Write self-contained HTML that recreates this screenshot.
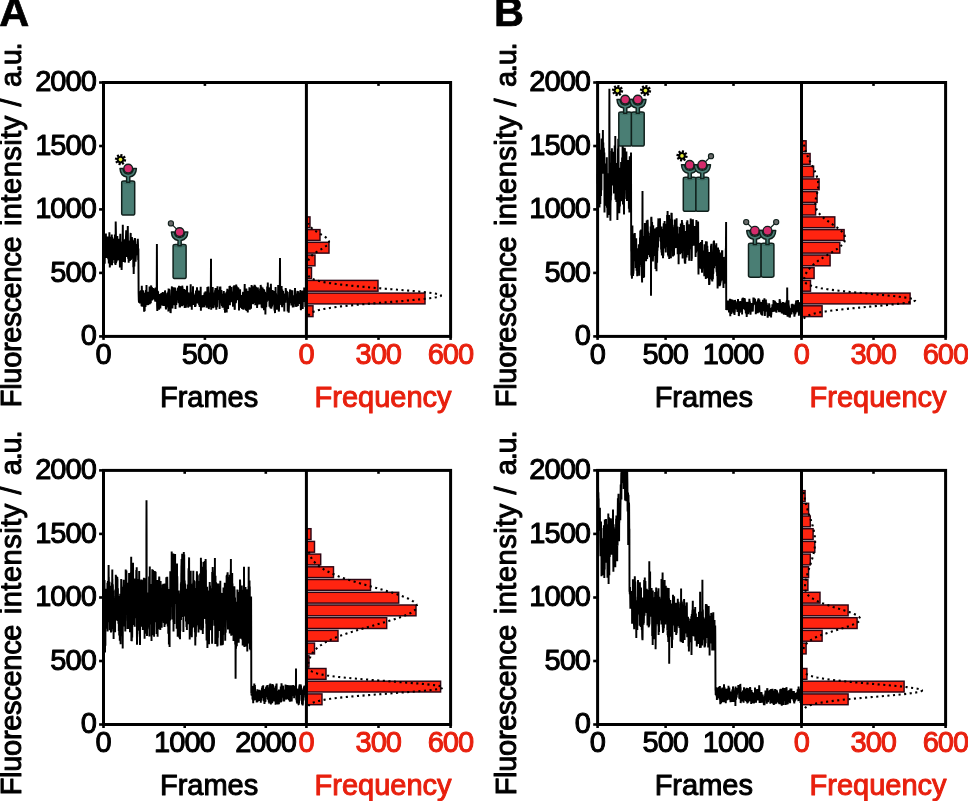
<!DOCTYPE html>
<html lang="en"><head><meta charset="utf-8"><title>Fluorescence photobleaching traces</title>
<style>html,body{margin:0;padding:0;background:#fff}body{width:968px;height:801px;overflow:hidden}svg{display:block}.t{font-family:"Liberation Sans",Arial,Helvetica,sans-serif;font-size:29px;fill:#000;stroke:#000;stroke-width:1px;stroke-linejoin:round}.r{fill:#e8200e;stroke:#e8200e}.n{letter-spacing:-.95px}.pl{font-family:"Liberation Sans",Arial,Helvetica,sans-serif;font-weight:bold;font-size:41.5px;fill:#000;stroke:#000;stroke-width:.7px}.tr{fill:none;stroke:#000;stroke-width:1.95;stroke-linejoin:miter;stroke-miterlimit:2}</style></head><body>
<svg width="968" height="801" viewBox="0 0 968 801">
<rect width="968" height="801" fill="#fff"/>
<text class="pl" x="-0.7" y="26.0">A</text>
<text class="pl" x="494.0" y="26.0">B</text>
<g id="A1">
<polyline class="tr" points="103.5,239.3 103.7,238.7 103.9,234.7 104.1,251.8 104.3,252.4 104.5,246.4 104.7,263.8 104.9,250.1 105.1,250.7 105.3,257.9 105.5,239.1 105.7,242.6 105.9,233.4 106.1,246.8 106.3,243.3 106.5,241.3 106.7,255 106.9,258 107.2,245.2 107.4,239.8 107.6,236.6 107.8,242.4 108,249.9 108.2,259.2 108.4,246.9 108.6,252.3 108.8,263.5 109,251.1 109.2,243.2 109.4,232.2 109.6,245.9 109.8,267.5 110,264 110.2,265 110.4,255.9 110.6,236.8 110.8,258.5 111,248.1 111.2,263.6 111.4,244.3 111.6,263.1 111.8,234.6 112,265.2 112.2,237 112.4,255 112.6,263 112.8,255.7 113,256.2 113.2,244.5 113.4,259.6 113.6,249.2 113.8,244.4 114.1,238.5 114.3,248.2 114.5,250.7 114.7,260 114.9,234.5 115.1,263.8 115.3,237.5 115.5,265.1 115.7,221.5 115.9,231 116.1,263.3 116.3,252.1 116.5,245.1 116.7,261.5 116.9,246.1 117.1,257.5 117.3,236 117.5,251.9 117.7,252 117.9,239.3 118.1,260.3 118.3,238.7 118.5,258.5 118.7,252 118.9,252.9 119.1,239.5 119.3,260.4 119.5,250.9 119.7,241.6 119.9,267.4 120.1,243.7 120.3,233.8 120.5,247.3 120.7,248.2 120.9,264.4 121.2,244.9 121.4,255 121.6,269.9 121.8,263.7 122,249.2 122.2,243.5 122.4,241.9 122.6,253.1 122.8,224.7 123,249.2 123.2,262.1 123.4,250.3 123.6,249.1 123.8,254.5 124,252.3 124.2,248 124.4,239.8 124.6,250.5 124.8,251.8 125,262.4 125.2,239.7 125.4,239.5 125.6,243.3 125.8,250.5 126,236.2 126.2,230.2 126.4,244.6 126.6,253.3 126.8,255 127,257 127.2,249.1 127.4,231.3 127.6,237.5 127.8,226 128.1,258.7 128.3,246.8 128.5,254 128.7,262.8 128.9,240.6 129.1,244.1 129.3,246.5 129.5,257.4 129.7,245.9 129.9,261 130.1,254.6 130.3,252.5 130.5,238.2 130.7,232.9 130.9,259.9 131.1,250 131.3,243 131.5,242.2 131.7,255.9 131.9,236.9 132.1,256.2 132.3,238.5 132.5,256.7 132.7,258.7 132.9,250.2 133.1,242.8 133.3,267.3 133.5,248 133.7,274 133.9,259.1 134.1,240.2 134.3,266.4 134.5,243.2 134.7,246.9 134.9,238.1 135.2,241.6 135.4,249.3 135.6,261.8 135.8,256.6 136,254.1 136.2,244 136.4,253.9 136.6,251.4 136.8,252 137,255.1 137.2,246.8 137.4,254.5 137.6,243 137.8,238.8 138,244.7 138.2,260.3 138.4,248.4 138.6,292.8 138.8,299.9 139,302.7 139.2,296.9 139.4,292.1 139.6,296.3 139.8,302.2 140,303.4 140.2,291.3 140.4,291.7 140.6,293.6 140.8,291.1 141,290.4 141.2,300 141.4,301.4 141.6,306.2 141.8,285.8 142.1,303.5 142.3,306.8 142.5,297.7 142.7,298.7 142.9,300.3 143.1,290.4 143.3,292.3 143.5,297.5 143.7,299 143.9,295.7 144.1,311.7 144.3,292.7 144.5,309.6 144.7,309.7 144.9,299.9 145.1,297.7 145.3,300.6 145.5,306.9 145.7,295.9 145.9,290 146.1,297.2 146.3,305.2 146.5,285 146.7,305.1 146.9,293.5 147.1,296.9 147.3,292 147.5,303.1 147.7,302.8 147.9,291.7 148.1,304.5 148.3,305 148.5,299.7 148.7,293.8 148.9,297.7 149.2,302.5 149.4,294.5 149.6,286.6 149.8,304.2 150,297.4 150.2,295.8 150.4,292.3 150.6,295.2 150.8,303.3 151,288.3 151.2,285.4 151.4,295.7 151.6,295.8 151.8,287.3 152,288.3 152.2,300.4 152.4,295.9 152.6,292.1 152.8,293.4 153,295 153.2,298.8 153.4,287.9 153.6,299.6 153.8,290.8 154,289.1 154.2,294.5 154.4,289.7 154.6,299.2 154.8,295.4 155,299.1 155.2,300.9 155.4,301.4 155.6,287.5 155.8,293.7 156.1,290.8 156.3,299.7 156.5,288.4 156.7,300.2 156.9,244.1 157.1,305.3 157.3,310.9 157.5,305.2 157.7,290.9 157.9,293.2 158.1,291.6 158.3,298.8 158.5,295.3 158.7,301.5 158.9,304.5 159.1,309.7 159.3,303.5 159.5,301.6 159.7,299.5 159.9,294.1 160.1,303.5 160.3,308.4 160.5,303.9 160.7,303.8 160.9,301.6 161.1,303.2 161.3,292.9 161.5,296.1 161.7,293.3 161.9,296.4 162.1,305.3 162.3,304.6 162.5,301 162.7,292.1 162.9,295.9 163.2,300 163.4,306 163.6,300.2 163.8,295.1 164,292.5 164.2,306.1 164.4,296.7 164.6,300.8 164.8,302.3 165,290.4 165.2,293.2 165.4,295.7 165.6,296.2 165.8,307.5 166,309.4 166.2,297.1 166.4,301.8 166.6,298.2 166.8,307.5 167,297.6 167.2,296 167.4,292.8 167.6,301.8 167.8,293.8 168,299.8 168.2,291.6 168.4,311.5 168.6,288.5 168.8,298 169,289.1 169.2,294.4 169.4,302.9 169.6,307.3 169.8,305.7 170.1,306.1 170.3,304.7 170.5,312.9 170.7,312.5 170.9,302.8 171.1,302.8 171.3,289.5 171.5,295 171.7,289.8 171.9,286.4 172.1,297.3 172.3,297.2 172.5,308.5 172.7,289 172.9,293.7 173.1,291.4 173.3,295.8 173.5,294.6 173.7,287.4 173.9,290.7 174.1,305.2 174.3,289.2 174.5,301.8 174.7,300.6 174.9,303 175.1,287.6 175.3,293.1 175.5,309.1 175.7,291.2 175.9,303.1 176.1,303.4 176.3,305 176.5,291 176.7,293.4 176.9,294.8 177.2,299.7 177.4,297.4 177.6,290.6 177.8,288.8 178,287.6 178.2,293.2 178.4,301.1 178.6,303.1 178.8,299.6 179,285.8 179.2,287.5 179.4,293.6 179.6,307.4 179.8,286.1 180,307.5 180.2,302.6 180.4,291.5 180.6,286.5 180.8,299.9 181,303.3 181.2,297.4 181.4,305.5 181.6,304.6 181.8,295.8 182,306.3 182.2,285.7 182.4,287.5 182.6,288.4 182.8,298.7 183,298.2 183.2,299.6 183.4,305.4 183.6,300.9 183.8,295.2 184.1,304.2 184.3,289.1 184.5,295 184.7,308 184.9,290.1 185.1,305.5 185.3,304.3 185.5,299.8 185.7,301 185.9,307.6 186.1,303 186.3,303.6 186.5,301.7 186.7,295.7 186.9,288.9 187.1,285.8 187.3,301.6 187.5,297.9 187.7,292.3 187.9,299.6 188.1,307.5 188.3,306 188.5,292.5 188.7,306.3 188.9,300.7 189.1,298.7 189.3,298.8 189.5,298.7 189.7,298.7 189.9,302.4 190.1,297.7 190.3,306.8 190.5,293.1 190.7,284.3 190.9,296.1 191.2,294.7 191.4,297.1 191.6,292.2 191.8,309.7 192,294.1 192.2,297.2 192.4,302.6 192.6,295.2 192.8,298.2 193,286.2 193.2,300.2 193.4,293 193.6,305 193.8,297 194,304.6 194.2,297.4 194.4,295.9 194.6,304 194.8,294.4 195,306.9 195.2,301.9 195.4,296.1 195.6,306.5 195.8,299 196,290.6 196.2,301.2 196.4,294.2 196.6,299.6 196.8,293.3 197,287.2 197.2,292.3 197.4,303.5 197.6,291.5 197.8,297.3 198.1,294.8 198.3,293.8 198.5,292.7 198.7,291.1 198.9,290.7 199.1,305.1 199.3,293.6 199.5,304.8 199.7,307 199.9,298.8 200.1,297.9 200.3,301.6 200.5,297.9 200.7,286.8 200.9,310.7 201.1,295.9 201.3,295.4 201.5,302 201.7,295.2 201.9,306.1 202.1,297.5 202.3,307.4 202.5,305.9 202.7,303.3 202.9,302.2 203.1,295.3 203.3,295.5 203.5,297 203.7,304 203.9,298.4 204.1,307.3 204.3,304.7 204.5,292.6 204.7,304.2 204.9,301.3 205.2,299.6 205.4,292.5 205.6,291.5 205.8,295.3 206,293.7 206.2,305.5 206.4,291.9 206.6,307.8 206.8,304.1 207,302.5 207.2,294.9 207.4,287.1 207.6,304.5 207.8,307.8 208,303.5 208.2,297.2 208.4,286.6 208.6,291.5 208.8,309.1 209,306.7 209.2,305.1 209.4,306.9 209.6,305.5 209.8,305.4 210,306.7 210.2,303 210.4,292.5 210.6,295.8 210.8,294.6 211,258.7 211.2,309.8 211.4,294.7 211.6,293.8 211.8,296.6 212.1,291.2 212.3,293.8 212.5,306.3 212.7,287.1 212.9,299.6 213.1,308.2 213.3,296.7 213.5,302.4 213.7,292.5 213.9,302 214.1,304.4 214.3,304.7 214.5,293.7 214.7,294.3 214.9,297.2 215.1,290.2 215.3,307.5 215.5,287.9 215.7,300.7 215.9,295.5 216.1,292.6 216.3,309.8 216.5,291.9 216.7,305.4 216.9,298.4 217.1,307.1 217.3,301.9 217.5,286.3 217.7,296.4 217.9,295.2 218.1,298.7 218.3,298.8 218.5,292 218.7,297.2 219,298.9 219.2,289.8 219.4,296.9 219.6,309.1 219.8,298.2 220,286.8 220.2,294.5 220.4,286.4 220.6,296.9 220.8,291.5 221,293.7 221.2,295.3 221.4,289.9 221.6,301.5 221.8,304.3 222,306 222.2,298.5 222.4,302.7 222.6,307.7 222.8,304.9 223,305.1 223.2,293.8 223.4,301 223.6,295.4 223.8,291.1 224,304.2 224.2,298 224.4,299.4 224.6,309.9 224.8,299.2 225,312.7 225.2,303.3 225.4,311.8 225.6,293.2 225.8,296.2 226.1,297.4 226.3,306.8 226.5,292.1 226.7,312.5 226.9,291.5 227.1,300 227.3,288.7 227.5,300.3 227.7,307 227.9,298.1 228.1,308.9 228.3,289.7 228.5,296.6 228.7,294.7 228.9,293.1 229.1,298 229.3,298 229.5,286.1 229.7,288.5 229.9,305.2 230.1,285.8 230.3,293.6 230.5,302.2 230.7,296.1 230.9,302.3 231.1,290.7 231.3,287 231.5,293.9 231.7,292.2 231.9,293.2 232.1,293.8 232.3,291.5 232.5,297 232.7,292.5 233,306.7 233.2,296.9 233.4,303.9 233.6,286.3 233.8,289.4 234,295.8 234.2,285.2 234.4,295.7 234.6,308.8 234.8,309.8 235,292 235.2,300.8 235.4,289.1 235.6,295.3 235.8,303.2 236,301.5 236.2,284.6 236.4,288.4 236.6,293.8 236.8,286.3 237,297.8 237.2,294.5 237.4,300.2 237.6,296.7 237.8,287.2 238,293.9 238.2,296.8 238.4,287.8 238.6,296.6 238.8,292.2 239,310.5 239.2,299.4 239.4,293.2 239.6,306.3 239.8,290.9 240.1,289.3 240.3,307.3 240.5,297.8 240.7,299.9 240.9,298.1 241.1,307.1 241.3,307.4 241.5,294.9 241.7,306.7 241.9,298.6 242.1,309 242.3,295.8 242.5,299.3 242.7,301.4 242.9,294.8 243.1,291.9 243.3,309.8 243.5,294.4 243.7,295.2 243.9,297.8 244.1,302.6 244.3,294.9 244.5,291.8 244.7,283.9 244.9,308.7 245.1,303.3 245.3,292.6 245.5,289.4 245.7,309.5 245.9,309.6 246.1,306.4 246.3,288.5 246.5,290.3 246.7,302.5 247,291.9 247.2,305.7 247.4,294.9 247.6,303.1 247.8,312.4 248,292.3 248.2,308 248.4,290.9 248.6,298.4 248.8,300.4 249,292.3 249.2,296.6 249.4,287.2 249.6,302.3 249.8,309.8 250,295 250.2,299.7 250.4,288.1 250.6,299.2 250.8,301.7 251,308.7 251.2,289.8 251.4,298.8 251.6,285 251.8,295.9 252,299.4 252.2,287.9 252.4,302 252.6,293.7 252.8,299.8 253,304.3 253.2,296.5 253.4,286.3 253.6,288.6 253.8,303 254.1,288.1 254.3,297.6 254.5,284.8 254.7,292.5 254.9,299.4 255.1,285.5 255.3,305.3 255.5,302.4 255.7,288.5 255.9,286.7 256.1,292.5 256.3,297.6 256.5,290.4 256.7,303.7 256.9,292.1 257.1,307.9 257.3,295 257.5,305.3 257.7,287.5 257.9,288.9 258.1,291.9 258.3,293.5 258.5,299.6 258.7,294.8 258.9,300.9 259.1,304 259.3,303.3 259.5,291.5 259.7,304.6 259.9,296.4 260.1,288.6 260.3,304.1 260.5,298.7 260.7,284.9 261,295.7 261.2,290 261.4,286.6 261.6,307.5 261.8,303.3 262,303.6 262.2,307.3 262.4,307.3 262.6,287.4 262.8,300.4 263,300.1 263.2,299.5 263.4,304 263.6,288.9 263.8,298.9 264,310.3 264.2,289.8 264.4,298.1 264.6,299.6 264.8,307.6 265,291.7 265.2,296.1 265.4,314.4 265.6,298.9 265.8,296.2 266,293.4 266.2,307.2 266.4,302.8 266.6,295.6 266.8,302 267,296.4 267.2,286.6 267.4,298.5 267.6,300.7 267.8,282.4 268.1,300.7 268.3,291.7 268.5,288.7 268.7,287.4 268.9,296.2 269.1,294.5 269.3,292.2 269.5,306.8 269.7,297.8 269.9,295.4 270.1,291.6 270.3,287.3 270.5,308.3 270.7,290.9 270.9,283.8 271.1,295.4 271.3,308.7 271.5,306.8 271.7,297.5 271.9,304 272.1,306.5 272.3,290.1 272.5,300.9 272.7,290.3 272.9,299.4 273.1,296.7 273.3,303.3 273.5,304.3 273.7,304 273.9,291 274.1,294.2 274.3,304.4 274.5,310.4 274.7,307.1 275,313.1 275.2,295.8 275.4,299.1 275.6,287 275.8,298.3 276,293.2 276.2,296 276.4,296.4 276.6,305.9 276.8,296.4 277,309.7 277.2,295.8 277.4,300.5 277.6,295.4 277.8,300.6 278,302.8 278.2,284.9 278.4,303.7 278.6,291.6 278.8,311.6 279,309.4 279.2,302.6 279.4,300.9 279.6,290.9 279.8,288.1 280,257.9 280.2,298.5 280.4,299.7 280.6,293.7 280.8,297.6 281,296 281.2,305 281.4,289.7 281.6,286.1 281.8,301.4 282.1,307.2 282.3,289.6 282.5,299.4 282.7,292.6 282.9,298.2 283.1,291.1 283.3,304.9 283.5,301.4 283.7,294.8 283.9,300.5 284.1,293.6 284.3,311.5 284.5,297.8 284.7,297.1 284.9,295.4 285.1,293.8 285.3,299.2 285.5,302.8 285.7,288.1 285.9,289.8 286.1,291.9 286.3,296.1 286.5,290.8 286.7,299.9 286.9,292.3 287.1,291.4 287.3,299 287.5,299.3 287.7,311.5 287.9,304.7 288.1,310.6 288.3,307.5 288.5,307.2 288.7,312.6 289,305 289.2,299.2 289.4,292 289.6,295.5 289.8,302.1 290,290.7 290.2,289.4 290.4,303.3 290.6,290.1 290.8,298.5 291,293.6 291.2,301.2 291.4,305.4 291.6,292.1 291.8,297.4 292,301.4 292.2,297.4 292.4,290.3 292.6,302.5 292.8,307.5 293,303.9 293.2,300.6 293.4,306.1 293.6,307.3 293.8,295.9 294,295.3 294.2,297.6 294.4,298.5 294.6,304.1 294.8,301.5 295,287.9 295.2,300.8 295.4,293.6 295.6,297.9 295.8,306.7 296.1,305.5 296.3,298.3 296.5,304.2 296.7,306.7 296.9,300.9 297.1,299.1 297.3,292 297.5,291 297.7,299.1 297.9,306.1 298.1,294.8 298.3,291.3 298.5,301.9 298.7,302.6 298.9,300.7 299.1,300.1 299.3,302.1 299.5,293.1 299.7,302.1 299.9,303.8 300.1,293.1 300.3,295.8 300.5,290 300.7,304.3 300.9,310.1 301.1,306.8 301.3,306.2 301.5,294.9 301.7,299 301.9,296.6 302.1,296.9 302.3,290.9 302.5,304.3 302.7,309 303,290.4 303.2,300 303.4,296.4 303.6,294.4 303.8,298.6 304,301.9 304.2,287.6 304.4,291 304.6,297.3 304.8,299.5 305,295 305.2,298.1 305.4,307 305.6,295.1 305.8,304 306,298.1 306.2,299.8 306.4,298.1"/>
<rect x="307" y="216.9" width="3" height="10.8" fill="#ff2410" stroke="#2e0614" stroke-width="1.45"/><rect x="307" y="229.6" width="13" height="10.8" fill="#ff2410" stroke="#2e0614" stroke-width="1.45"/><rect x="307" y="242.3" width="22" height="10.8" fill="#ff2410" stroke="#2e0614" stroke-width="1.45"/><rect x="307" y="255" width="8" height="10.8" fill="#ff2410" stroke="#2e0614" stroke-width="1.45"/><rect x="307" y="267.7" width="4.5" height="10.8" fill="#ff2410" stroke="#2e0614" stroke-width="1.45"/><rect x="307" y="280.4" width="71" height="10.8" fill="#ff2410" stroke="#2e0614" stroke-width="1.45"/><rect x="307" y="293.1" width="118" height="10.8" fill="#ff2410" stroke="#2e0614" stroke-width="1.45"/><rect x="307" y="305.8" width="6" height="10.8" fill="#ff2410" stroke="#2e0614" stroke-width="1.45"/>
<polyline points="308.3,315.6 308.7,315.1 309.1,314.6 309.6,314.1 310.2,313.5 311,313 311.8,312.5 312.9,312 314.1,311.5 315.5,311 317.2,310.5 319.1,310 321.3,309.5 323.8,309 326.6,308.5 329.7,308 333.2,307.5 337,306.9 341.1,306.4 345.6,305.9 350.5,305.4 355.7,304.9 361.2,304.4 366.9,303.9 372.8,303.4 378.9,302.9 385.2,302.4 391.4,301.9 397.6,301.4 403.7,300.9 409.6,300.3 415.2,299.8 420.5,299.3 425.3,298.8 429.5,298.3 433.2,297.8 436.2,297.3 438.5,296.8 440.1,296.3 440.9,295.8 440.9,295.3 440.1,294.8 438.5,294.3 436.2,293.7 433.2,293.2 429.5,292.7 425.3,292.2 420.5,291.7 415.2,291.2 409.6,290.7 403.7,290.2 397.6,289.7 391.4,289.2 385.2,288.7 378.9,288.2 372.8,287.7 366.9,287.1 361.2,286.6 355.7,286.1 350.5,285.6 345.6,285.1 341.1,284.6 337,284.1 333.2,283.6 329.7,283.1 326.6,282.6 323.8,282.1 321.3,281.6 319.1,281 317.2,280.5 315.5,280 314.1,279.5 312.9,279 311.8,278.5 311,278 310.2,277.5 309.6,277 309.1,276.5 308.7,276 308.3,275.5" fill="none" stroke="#000" stroke-width="2.1" stroke-dasharray="2.1 3.5"/><polyline points="308.2,260.7 308.4,260.2 308.7,259.7 308.9,259.2 309.2,258.7 309.5,258.2 309.9,257.7 310.3,257.2 310.7,256.7 311.2,256.2 311.7,255.7 312.2,255.2 312.8,254.6 313.5,254.1 314.1,253.6 314.9,253.1 315.6,252.6 316.4,252.1 317.2,251.6 318,251.1 318.8,250.6 319.7,250.1 320.6,249.6 321.4,249.1 322.3,248.6 323.1,248 323.9,247.5 324.7,247 325.4,246.5 326.1,246 326.7,245.5 327.3,245 327.8,244.5 328.2,244 328.5,243.5 328.8,243 328.9,242.5 329,241.9 329,241.4 328.9,240.9 328.7,240.4 328.4,239.9 328,239.4 327.5,238.9 327,238.4 326.4,237.9 325.8,237.4 325.1,236.9 324.3,236.4 323.5,235.9 322.7,235.3 321.8,234.8 321,234.3 320.1,233.8 319.3,233.3 318.4,232.8 317.6,232.3 316.8,231.8 316,231.3 315.2,230.8 314.5,230.3 313.8,229.8 313.1,229.3 312.5,228.7 312,228.2 311.4,227.7 310.9,227.2 310.5,226.7 310.1,226.2 309.7,225.7 309.4,225.2 309.1,224.7 308.8,224.2 308.5,223.7 308.3,223.2" fill="none" stroke="#000" stroke-width="2.1" stroke-dasharray="2.1 3.5"/>
<g><rect x="121.7" y="181" width="13" height="34" rx="2.2" ry="1.6" fill="#4a7e74" stroke="#10201c" stroke-width="1.5"/><path d="M122.5 182.6 q5.7 2.4 11.4 0" fill="none" stroke="#3a6a60" stroke-width="1"/><path d="M126.6 182.2 v-5.2 q-6.2 -1 -6.6 -8.6 h3 q0.6 5.6 5.2 5.6 q4.6 0 5.2 -5.6 h3 q-0.4 7.6 -6.6 8.6 v5.2 z" fill="#4a7e74" stroke="#10201c" stroke-width="1.45" stroke-linejoin="round"/><circle cx="128.2" cy="168.6" r="4.4" fill="#d42c6c" stroke="#10201c" stroke-width="1.4"/><g transform="translate(120.5,159.6)"><line x1="0" y1="0" x2="5.5" y2="1.1" stroke="#000" stroke-width="2.2"/><line x1="0" y1="0" x2="3.1" y2="4.7" stroke="#000" stroke-width="2.2"/><line x1="0" y1="0" x2="-1.1" y2="5.5" stroke="#000" stroke-width="2.2"/><line x1="0" y1="0" x2="-4.7" y2="3.1" stroke="#000" stroke-width="2.2"/><line x1="0" y1="0" x2="-5.5" y2="-1.1" stroke="#000" stroke-width="2.2"/><line x1="0" y1="0" x2="-3.1" y2="-4.7" stroke="#000" stroke-width="2.2"/><line x1="0" y1="0" x2="1.1" y2="-5.5" stroke="#000" stroke-width="2.2"/><line x1="0" y1="0" x2="4.7" y2="-3.1" stroke="#000" stroke-width="2.2"/><circle r="3.7" fill="#000"/><circle r="1.8" fill="#e6ee3c"/></g></g>
<g><line x1="170.9" y1="223.4" x2="179.6" y2="232.1" stroke="#10201c" stroke-width="1.3"/><circle cx="170.9" cy="223.4" r="2.6" fill="#6a6a6a" stroke="#10201c" stroke-width="1.1"/><rect x="173.1" y="244.5" width="13" height="34" rx="2.2" ry="1.6" fill="#4a7e74" stroke="#10201c" stroke-width="1.5"/><path d="M173.9 246.1 q5.7 2.4 11.4 0" fill="none" stroke="#3a6a60" stroke-width="1"/><path d="M178 245.7 v-5.2 q-6.2 -1 -6.6 -8.6 h3 q0.6 5.6 5.2 5.6 q4.6 0 5.2 -5.6 h3 q-0.4 7.6 -6.6 8.6 v5.2 z" fill="#4a7e74" stroke="#10201c" stroke-width="1.45" stroke-linejoin="round"/><circle cx="179.6" cy="232.1" r="4.4" fill="#d42c6c" stroke="#10201c" stroke-width="1.4"/></g>
<rect x="103.5" y="82.5" width="347.1" height="253.9" fill="none" stroke="#000" stroke-width="3"/><line x1="306.4" y1="82.5" x2="306.4" y2="336.4" stroke="#000" stroke-width="3"/><line x1="99.1" y1="336.4" x2="103.5" y2="336.4" stroke="#000" stroke-width="2.6"/><text class="t n" x="95.9" y="345.3" text-anchor="end">0</text><line x1="99.1" y1="272.9" x2="103.5" y2="272.9" stroke="#000" stroke-width="2.6"/><text class="t n" x="95.9" y="281.8" text-anchor="end">500</text><line x1="99.1" y1="209.4" x2="103.5" y2="209.4" stroke="#000" stroke-width="2.6"/><text class="t n" x="95.9" y="218.3" text-anchor="end">1000</text><line x1="99.1" y1="146" x2="103.5" y2="146" stroke="#000" stroke-width="2.6"/><text class="t n" x="95.9" y="154.9" text-anchor="end">1500</text><line x1="99.1" y1="82.5" x2="103.5" y2="82.5" stroke="#000" stroke-width="2.6"/><text class="t n" x="95.9" y="91.4" text-anchor="end">2000</text><line x1="103.5" y1="336.4" x2="103.5" y2="339.9" stroke="#000" stroke-width="2.6"/><text class="t n" x="103.2" y="364" text-anchor="middle">0</text><line x1="204.9" y1="336.4" x2="204.9" y2="339.9" stroke="#000" stroke-width="2.6"/><line x1="204.9" y1="82.5" x2="204.9" y2="85.9" stroke="#000" stroke-width="2.6"/><text class="t n" x="204.6" y="364" text-anchor="middle">500</text><line x1="306.4" y1="336.4" x2="306.4" y2="339.9" stroke="#000" stroke-width="2.6"/><text class="t r n" x="306.2" y="364" text-anchor="middle">0</text><line x1="378.5" y1="336.4" x2="378.5" y2="339.9" stroke="#000" stroke-width="2.6"/><line x1="378.5" y1="82.5" x2="378.5" y2="85.9" stroke="#000" stroke-width="2.6"/><text class="t r n" x="378.3" y="364" text-anchor="middle">300</text><line x1="450.6" y1="336.4" x2="450.6" y2="339.9" stroke="#000" stroke-width="2.6"/><text class="t r n" x="450.4" y="364" text-anchor="middle">600</text><text class="t" x="209.1" y="406.5" text-anchor="middle">Frames</text><text class="t r" x="383.1" y="406.5" text-anchor="middle">Frequency</text><text class="t" transform="translate(21,407.2) rotate(-90)" style="letter-spacing:-0.3px">Fluorescence</text><text class="t" transform="translate(21,226.1) rotate(-90)" style="letter-spacing:0.5px">intensity</text><text class="t" transform="translate(21,106.4) rotate(-90)" style="letter-spacing:0px">/</text><text class="t" transform="translate(21,87.1) rotate(-90)" style="letter-spacing:-1.2px">a.u.</text>
</g>
<g id="B1">
<polyline class="tr" points="597.6,173.9 597.7,183.8 597.9,163.7 598,186.2 598.1,200.6 598.3,200.9 598.4,203.6 598.6,190.7 598.7,179.5 598.8,204.1 599,180.6 599.1,202.8 599.2,133.3 599.4,155.3 599.5,207.4 599.6,164.2 599.8,182.9 599.9,189.9 600,161.8 600.2,153.8 600.3,204.1 600.5,165.9 600.6,152.1 600.7,165.4 600.9,153.5 601,195.9 601.1,149.8 601.3,177.3 601.4,190.2 601.5,159.3 601.7,138.4 601.8,169.4 601.9,170.5 602.1,173.8 602.2,172.3 602.4,171.4 602.5,157.2 602.6,139.4 602.8,153.1 602.9,130.1 603,164.2 603.2,161.7 603.3,142.4 603.4,173.8 603.6,156.5 603.7,148.2 603.9,148.7 604,173 604.1,155.6 604.3,152.4 604.4,162.7 604.5,212.4 604.7,182.3 604.8,177.8 604.9,194.1 605.1,205.4 605.2,173.5 605.3,204.9 605.5,168.3 605.6,180.7 605.8,171 605.9,188 606,163.5 606.2,166.4 606.3,197.4 606.4,186.1 606.6,193.8 606.7,206.1 606.8,157.3 607,207.7 607.1,204.5 607.3,191.7 607.4,207.4 607.5,217.7 607.7,173.3 607.8,181.9 607.9,209 608.1,184.7 608.2,190.1 608.3,191.4 608.5,197.1 608.6,199.8 608.7,206 608.9,181.8 609,203.5 609.2,214.9 609.3,120.6 609.4,88.8 609.6,185.7 609.7,178.6 609.8,196.8 610,208 610.1,195.8 610.2,188.8 610.4,220.8 610.5,203.7 610.6,201.4 610.8,190.2 610.9,200.2 611.1,179.3 611.2,195.4 611.3,162.8 611.5,185.3 611.6,151.1 611.7,181.4 611.9,148.2 612,185.6 612.1,179.4 612.3,173.9 612.4,161.1 612.6,159.2 612.7,184.7 612.8,151.7 613,174.4 613.1,167.3 613.2,169.4 613.4,175.1 613.5,168.3 613.6,179.3 613.8,168 613.9,184.6 614,193.6 614.2,165.8 614.3,176.5 614.5,155.4 614.6,164.5 614.7,145.6 614.9,174 615,186.4 615.1,192.2 615.3,136.1 615.4,182.2 615.5,199.8 615.7,192.7 615.8,199.4 616,164.1 616.1,190.9 616.2,190.2 616.4,202.1 616.5,184.9 616.6,163 616.8,183.1 616.9,193.9 617,193.1 617.2,201.4 617.3,169.1 617.4,220.1 617.6,185 617.7,165.5 617.9,163.1 618,148.6 618.1,164 618.3,138.7 618.4,166.4 618.5,146 618.7,205.1 618.8,185.5 618.9,186.3 619.1,200.8 619.2,205.6 619.3,213.2 619.5,203.1 619.6,200.4 619.8,200.7 619.9,206.6 620,199 620.2,167.7 620.3,182.8 620.4,200.3 620.6,189.5 620.7,196.5 620.8,201.3 621,170.8 621.1,161.9 621.3,196.2 621.4,201.3 621.5,176.6 621.7,164.1 621.8,177.6 621.9,184.4 622.1,157.6 622.2,174.6 622.3,185.4 622.5,177.2 622.6,147.2 622.7,125.7 622.9,184 623,204.6 623.2,163.9 623.3,181.9 623.4,181.7 623.6,198.3 623.7,188.8 623.8,196.3 624,214.4 624.1,194.4 624.2,196 624.4,168.1 624.5,147.8 624.7,199.1 624.8,176.8 624.9,148.2 625.1,185.6 625.2,155 625.3,156.9 625.5,189.9 625.6,165.9 625.7,158.1 625.9,185.7 626,162.6 626.1,178.4 626.3,168.2 626.4,151.6 626.6,182.4 626.7,184.2 626.8,192.9 627,201.1 627.1,194.7 627.2,164.3 627.4,197.3 627.5,162.8 627.6,191.9 627.8,163.2 627.9,184.8 628,179.7 628.2,160.1 628.3,164.3 628.5,189.6 628.6,176.5 628.7,169.9 628.9,208.7 629,186.7 629.1,191 629.3,194.5 629.4,212.6 629.5,176.6 629.7,158.1 629.8,156.2 630,172.4 630.1,181 630.2,201.6 630.4,169.1 630.5,163.2 630.6,177.3 630.8,207.5 630.9,179.9 631,152.5 631.2,250.5 631.3,252 631.4,275.5 631.6,273.1 631.7,262.1 631.9,277.5 632,278.7 632.1,241 632.3,258.2 632.4,225.6 632.5,250.4 632.7,266.3 632.8,268.3 632.9,251.3 633.1,275.9 633.2,266.3 633.4,273.8 633.5,269.9 633.6,267.6 633.8,246.5 633.9,256.4 634,252.9 634.2,244.6 634.3,239.7 634.4,234.7 634.6,233.3 634.7,245.2 634.8,232.9 635,245.2 635.1,261.2 635.3,254.7 635.4,241.6 635.5,242.6 635.7,248.8 635.8,267.9 635.9,253.9 636.1,267 636.2,238.2 636.3,261.1 636.5,262.3 636.6,270.8 636.7,265.9 636.9,265.9 637,264.1 637.2,275.2 637.3,275.2 637.4,257.3 637.6,261.1 637.7,251 637.8,257.3 638,248.2 638.1,253.2 638.2,258.4 638.4,256.5 638.5,260 638.7,253.1 638.8,244.3 638.9,265.7 639.1,259.7 639.2,246.4 639.3,275.7 639.5,264.7 639.6,253.7 639.7,256.6 639.9,265.1 640,237.6 640.1,243.9 640.3,230.6 640.4,254.8 640.6,256.7 640.7,265 640.8,243 641,264.6 641.1,229.4 641.2,260.1 641.4,258.7 641.5,250.2 641.6,267 641.8,242.8 641.9,276.4 642.1,282.5 642.2,257.4 642.3,254.4 642.5,191 642.6,242.2 642.7,259.3 642.9,249.7 643,258 643.1,277.9 643.3,253.3 643.4,236.1 643.5,245.8 643.7,252.1 643.8,244.6 644,245 644.1,277.5 644.2,258.6 644.4,252.5 644.5,238.6 644.6,251.7 644.8,232.3 644.9,223 645,250.4 645.2,244.4 645.3,233.1 645.4,228.9 645.6,255 645.7,243 645.9,259.4 646,242.5 646.1,261.3 646.3,250 646.4,239.7 646.5,250.8 646.7,220.4 646.8,244.5 646.9,236.6 647.1,226.7 647.2,259 647.4,229.5 647.5,244 647.6,219.8 647.8,226 647.9,246.8 648,254.9 648.2,231.6 648.3,246.3 648.4,254.8 648.6,232.9 648.7,245 648.8,236.1 649,249.9 649.1,250.2 649.3,243 649.4,250.3 649.5,247.7 649.7,240 649.8,256.1 649.9,257.1 650.1,243.2 650.2,236.2 650.3,244.7 650.5,241 650.6,250.2 650.7,226.5 650.9,233.5 651,295.8 651.2,217.6 651.3,226.5 651.4,216.8 651.6,223 651.7,233.3 651.8,232.4 652,231.3 652.1,222.1 652.2,232.6 652.4,235.5 652.5,253.7 652.7,252.1 652.8,245 652.9,261.5 653.1,252.8 653.2,225.3 653.3,244.5 653.5,244.8 653.6,230.4 653.7,252.5 653.9,236.9 654,256.1 654.1,247 654.3,230.9 654.4,243.6 654.6,242.2 654.7,243.5 654.8,228.5 655,237 655.1,249 655.2,233.2 655.4,257.8 655.5,268.9 655.6,255 655.8,254.6 655.9,253.5 656.1,228.3 656.2,242.5 656.3,238.7 656.5,271.2 656.6,227.2 656.7,246.5 656.9,248.5 657,242 657.1,262.8 657.3,249.2 657.4,240.4 657.5,250.8 657.7,226.9 657.8,245.8 658,232.2 658.1,247.5 658.2,225.4 658.4,218.4 658.5,233.8 658.6,221.6 658.8,225.6 658.9,220.9 659,233.3 659.2,219.1 659.3,224.7 659.4,222.8 659.6,237.3 659.7,221.9 659.9,222.6 660,218.2 660.1,227.9 660.3,233.2 660.4,228.8 660.5,240.3 660.7,241.2 660.8,233.7 660.9,228.2 661.1,249.4 661.2,235.4 661.4,226.6 661.5,251.6 661.6,251.6 661.8,249.7 661.9,255.4 662,231.8 662.2,243.8 662.3,246.1 662.4,239.3 662.6,232.5 662.7,237.2 662.8,239.9 663,258.3 663.1,228.9 663.3,255.8 663.4,230.6 663.5,232.6 663.7,223.2 663.8,234.6 663.9,226.5 664.1,229 664.2,237 664.3,244.7 664.5,248.4 664.6,221.1 664.8,233.6 664.9,244.2 665,229.3 665.2,223.7 665.3,241.5 665.4,242.8 665.6,228.4 665.7,235.1 665.8,252.6 666,240.4 666.1,242.4 666.2,230.5 666.4,224.4 666.5,229.8 666.7,242 666.8,235.6 666.9,247.1 667.1,214.9 667.2,240.1 667.3,216.3 667.5,220.4 667.6,210.9 667.7,234.1 667.9,240.4 668,255.1 668.1,241.2 668.3,256.4 668.4,220.8 668.6,241.9 668.7,226.8 668.8,242.7 669,238.5 669.1,215 669.2,258.9 669.4,239.3 669.5,240.1 669.6,224.5 669.8,230.7 669.9,238.5 670.1,218.8 670.2,234.8 670.3,255.7 670.5,231 670.6,232.1 670.7,231.6 670.9,258.3 671,232.2 671.1,232.6 671.3,221.7 671.4,212.7 671.5,224.6 671.7,212.9 671.8,218.2 672,227.3 672.1,236.1 672.2,219.5 672.4,244.3 672.5,226.8 672.6,224.8 672.8,227.3 672.9,251.1 673,256.5 673.2,227.3 673.3,232.7 673.5,237.4 673.6,238.4 673.7,239.5 673.9,250.1 674,255.4 674.1,236.2 674.3,238.6 674.4,248.4 674.5,231.7 674.7,245 674.8,244.5 674.9,219.6 675.1,221.4 675.2,228.6 675.4,229.5 675.5,229.2 675.6,231.6 675.8,230.1 675.9,239.4 676,241.5 676.2,246.2 676.3,248 676.4,239.2 676.6,218.2 676.7,234.2 676.8,235.9 677,230.9 677.1,228.3 677.3,229.8 677.4,234.7 677.5,226.6 677.7,254.2 677.8,239.1 677.9,251.7 678.1,233.5 678.2,242.5 678.3,239.1 678.5,244.1 678.6,264.3 678.8,241.4 678.9,246.5 679,245.5 679.2,239.1 679.3,236.7 679.4,249.6 679.6,243.5 679.7,250 679.8,226.9 680,254.3 680.1,233.7 680.2,230.3 680.4,234.9 680.5,242.3 680.7,239.4 680.8,223.6 680.9,253.2 681.1,243.3 681.2,248.7 681.3,236.1 681.5,227.5 681.6,233.5 681.7,248.3 681.9,220.1 682,227.8 682.2,227.9 682.3,223 682.4,223.6 682.6,258.4 682.7,227.8 682.8,233.7 683,230.7 683.1,235.7 683.2,232.4 683.4,225.6 683.5,243.1 683.6,243.4 683.8,227.1 683.9,224.9 684.1,236.3 684.2,238 684.3,237.6 684.5,247.8 684.6,251.1 684.7,260.8 684.9,263.4 685,247.9 685.1,240.7 685.3,263.8 685.4,249.5 685.5,260.1 685.7,236.1 685.8,231 686,245.3 686.1,243 686.2,248.8 686.4,240.6 686.5,237.6 686.6,257.6 686.8,222.2 686.9,229.1 687,236.2 687.2,245.1 687.3,220.2 687.5,224.6 687.6,241 687.7,238.6 687.9,233.5 688,249.8 688.1,236.1 688.3,224.7 688.4,224.4 688.5,255 688.7,238.7 688.8,243.8 688.9,224.3 689.1,236.1 689.2,260.7 689.4,243.6 689.5,244.5 689.6,248 689.8,243.3 689.9,239.6 690,248.6 690.2,236.3 690.3,236.1 690.4,249.3 690.6,239.5 690.7,218.6 690.9,239.7 691,247.2 691.1,233.2 691.3,219.6 691.4,228.8 691.5,260.9 691.7,258.2 691.8,258.1 691.9,237.8 692.1,246.1 692.2,231.8 692.3,239.2 692.5,242.9 692.6,239 692.8,237.8 692.9,219.3 693,225.5 693.2,237.4 693.3,240.6 693.4,227.9 693.6,227.2 693.7,237.3 693.8,229.9 694,245.7 694.1,239.8 694.2,243.2 694.4,233.4 694.5,226.4 694.7,236.9 694.8,241.7 694.9,226.1 695.1,230.3 695.2,239.8 695.3,238.9 695.5,244.7 695.6,257 695.7,239.4 695.9,235.1 696,252.8 696.2,243.4 696.3,225.2 696.4,220 696.6,224 696.7,235.7 696.8,238.1 697,245.1 697.1,231.8 697.2,237.3 697.4,251.4 697.5,234.5 697.6,240 697.8,230.7 697.9,246 698.1,221.5 698.2,232.4 698.3,255.1 698.5,274.5 698.6,252.4 698.7,266.8 698.9,258.4 699,266.2 699.1,243.1 699.3,250.7 699.4,260.9 699.5,245.7 699.7,258.2 699.8,245.1 700,248.2 700.1,263.3 700.2,268.5 700.4,256.9 700.5,252.2 700.6,268.5 700.8,264.3 700.9,241.9 701,259.9 701.2,254.1 701.3,269.2 701.5,257.7 701.6,264.9 701.7,258.5 701.9,255.2 702,272.7 702.1,240 702.3,255.6 702.4,263.9 702.5,268.6 702.7,258.6 702.8,256.7 702.9,252.1 703.1,251.1 703.2,252.7 703.4,267.1 703.5,262.4 703.6,263.3 703.8,252.4 703.9,250.5 704,266.5 704.2,272.9 704.3,276.2 704.4,254.9 704.6,244.2 704.7,252.5 704.9,252.1 705,259.1 705.1,254.6 705.3,263.8 705.4,254.9 705.5,251.1 705.7,273.7 705.8,279 705.9,241.2 706.1,252.6 706.2,242.5 706.3,253.8 706.5,249.7 706.6,242.5 706.8,242.5 706.9,275.6 707,267.7 707.2,278.3 707.3,245.8 707.4,248.4 707.6,250.6 707.7,262.2 707.8,273 708,275.5 708.1,270.4 708.2,270.4 708.4,264.6 708.5,265.4 708.7,264.2 708.8,262.4 708.9,274.6 709.1,285 709.2,257.8 709.3,252 709.5,284.6 709.6,266.4 709.7,269.7 709.9,264.1 710,274.3 710.2,274 710.3,279 710.4,252.3 710.6,264.2 710.7,260.6 710.8,267 711,245.7 711.1,264.6 711.2,245.2 711.4,243.8 711.5,253.4 711.6,263.7 711.8,280.3 711.9,257.8 712.1,277.2 712.2,273 712.3,281.6 712.5,265.9 712.6,268 712.7,258.4 712.9,279.3 713,271.9 713.1,262.4 713.3,273.8 713.4,253.3 713.6,244.9 713.7,241.2 713.8,248 714,240.6 714.1,268.3 714.2,264 714.4,253.2 714.5,263.6 714.6,260.9 714.8,249.7 714.9,246.6 715,247.4 715.2,266 715.3,250.3 715.5,245.3 715.6,258.6 715.7,248.7 715.9,245.6 716,251.2 716.1,256.6 716.3,243.2 716.4,268.2 716.5,269.4 716.7,272.1 716.8,257.7 716.9,256.3 717.1,275.9 717.2,248.2 717.4,265.4 717.5,276.9 717.6,288.4 717.8,281.6 717.9,280.8 718,247.6 718.2,255 718.3,274.4 718.4,281.3 718.6,269.6 718.7,277.6 718.9,249.8 719,263.7 719.1,259.3 719.3,272.7 719.4,275.7 719.5,262.6 719.7,286.3 719.8,252.8 719.9,252.6 720.1,278.5 720.2,285.3 720.3,275.3 720.5,283.3 720.6,266.2 720.8,262.9 720.9,281.4 721,263.7 721.2,259.6 721.3,267.4 721.4,257.6 721.6,273.1 721.7,265.1 721.8,256.5 722,250.3 722.1,264.7 722.3,250.2 722.4,274.9 722.5,260.8 722.7,268.6 722.8,280.4 722.9,274.3 723.1,273.9 723.2,257 723.3,280.8 723.5,288 723.6,262 723.7,271.9 723.9,264.9 724,279.9 724.2,283.8 724.3,265.7 724.4,260.6 724.6,265.8 724.7,282.1 724.8,272.1 725,280.6 725.1,273.3 725.2,256.8 725.4,263.4 725.5,262.2 725.6,274.4 725.8,248.5 725.9,253.2 726.1,222.1 726.2,310 726.3,307.8 726.5,305.3 726.6,301.2 726.7,304.1 726.9,306 727,307.2 727.1,301.3 727.3,310.2 727.4,305.6 727.6,309.4 727.7,301.4 727.8,306.5 728,300.5 728.1,303.2 728.2,309.7 728.4,300.7 728.5,303.3 728.6,305 728.8,305.8 728.9,304.2 729,312.4 729.2,302.8 729.3,304.9 729.5,304.6 729.6,306.6 729.7,306.4 729.9,298.8 730,305.3 730.1,308.3 730.3,316.2 730.4,305.9 730.5,309.8 730.7,310.8 730.8,311.1 731,311.1 731.1,313.8 731.2,312.8 731.4,311.9 731.5,299.2 731.6,311.4 731.8,300.8 731.9,307.4 732,305 732.2,308.3 732.3,309.4 732.4,305.6 732.6,302.9 732.7,299.8 732.9,301.1 733,309.3 733.1,309.3 733.3,311.7 733.4,304.5 733.5,313.4 733.7,300.5 733.8,301 733.9,309 734.1,313.5 734.2,300.5 734.3,305.8 734.5,315 734.6,311.1 734.8,312.1 734.9,308.7 735,299.9 735.2,305.3 735.3,307.5 735.4,306.2 735.6,305.6 735.7,306.3 735.8,301.2 736,306 736.1,308.7 736.3,303.8 736.4,305.8 736.5,306.6 736.7,308.8 736.8,304.5 736.9,305.2 737.1,309.7 737.2,302.7 737.3,309.2 737.5,311.9 737.6,304.6 737.7,304.9 737.9,303 738,299.1 738.2,308.1 738.3,302 738.4,305.6 738.6,301.7 738.7,309.8 738.8,316.1 739,314.8 739.1,309.8 739.2,311.3 739.4,311.4 739.5,306.3 739.7,305.3 739.8,304.1 739.9,302.5 740.1,305.4 740.2,301 740.3,308.1 740.5,310.2 740.6,304 740.7,307.3 740.9,307.1 741,303.4 741.1,302.1 741.3,305 741.4,312.6 741.6,306.6 741.7,309.9 741.8,310.7 742,306.6 742.1,314.4 742.2,299.4 742.4,298.8 742.5,304.3 742.6,301 742.8,297.9 742.9,298.1 743,298.5 743.2,307.7 743.3,306.8 743.5,303.2 743.6,303.9 743.7,301.6 743.9,305.8 744,305.6 744.1,309.3 744.3,297.9 744.4,303 744.5,300.1 744.7,298.8 744.8,298.5 745,302.4 745.1,310 745.2,307.6 745.4,310.5 745.5,303.7 745.6,301.7 745.8,313.2 745.9,307.1 746,309.1 746.2,304.3 746.3,313.1 746.4,314.2 746.6,312.2 746.7,317 746.9,313.3 747,307.4 747.1,312.3 747.3,301.9 747.4,303.9 747.5,312.6 747.7,308.4 747.8,313.4 747.9,314.3 748.1,311 748.2,313.9 748.4,305.1 748.5,303.1 748.6,304.6 748.8,312.4 748.9,307.1 749,304.5 749.2,308.1 749.3,302.3 749.4,298.7 749.6,306.7 749.7,301 749.8,308.4 750,309.6 750.1,302.9 750.3,307.2 750.4,304.8 750.5,314.7 750.7,311.4 750.8,310.2 750.9,306.9 751.1,303.9 751.2,306.9 751.3,308.7 751.5,310.3 751.6,305.5 751.7,303.1 751.9,306.7 752,311.3 752.2,310.8 752.3,308.8 752.4,306.5 752.6,309.5 752.7,310.8 752.8,311.5 753,305.9 753.1,305 753.2,304.9 753.4,297.5 753.5,301.1 753.7,300.4 753.8,300 753.9,297.9 754.1,304.8 754.2,303.3 754.3,301.3 754.5,298.5 754.6,299.8 754.7,302.6 754.9,300.4 755,298.8 755.1,300.1 755.3,301.8 755.4,302.9 755.6,303.4 755.7,304.7 755.8,314.3 756,306.9 756.1,301.4 756.2,307.9 756.4,302.9 756.5,305.6 756.6,303.3 756.8,303.6 756.9,309.7 757,309.2 757.2,307.5 757.3,302.8 757.5,309.2 757.6,307 757.7,313.2 757.9,310.8 758,299.4 758.1,310.4 758.3,301.1 758.4,303.1 758.5,298.2 758.7,301 758.8,312.5 759,307.8 759.1,304.3 759.2,305 759.4,299.6 759.5,312.4 759.6,305.2 759.8,302.1 759.9,305.6 760,308.9 760.2,310.7 760.3,308.6 760.4,306.7 760.6,307 760.7,302.4 760.9,302 761,308.7 761.1,314 761.3,307.9 761.4,309.1 761.5,315 761.7,311 761.8,303.3 761.9,309.1 762.1,311.2 762.2,315.6 762.4,311.5 762.5,310.3 762.6,310.1 762.8,308 762.9,299.7 763,311 763.2,305 763.3,306.3 763.4,301.1 763.6,304.5 763.7,310.6 763.8,303 764,300.7 764.1,306.3 764.3,304.2 764.4,298.3 764.5,311.2 764.7,309.7 764.8,316 764.9,315.2 765.1,303.3 765.2,307.7 765.3,304.2 765.5,306.2 765.6,302.8 765.7,300.6 765.9,299.5 766,305.1 766.2,308.1 766.3,310 766.4,306 766.6,302.9 766.7,304 766.8,311.6 767,304.7 767.1,309.7 767.2,305.4 767.4,310.2 767.5,314.6 767.7,317.8 767.8,312.7 767.9,313 768.1,313.3 768.2,306.8 768.3,307.6 768.5,311.7 768.6,309.5 768.7,310.8 768.9,313.6 769,307.5 769.1,303.3 769.3,312.8 769.4,304.5 769.6,309.9 769.7,316.2 769.8,310.2 770,313 770.1,308.6 770.2,311.2 770.4,316.2 770.5,312 770.6,308.1 770.8,314.3 770.9,310.6 771.1,317.5 771.2,308 771.3,314.8 771.5,310.4 771.6,310.9 771.7,310 771.9,307.2 772,311 772.1,310.8 772.3,311.6 772.4,304.3 772.5,306.2 772.7,312 772.8,309.2 773,306.1 773.1,309.1 773.2,307.2 773.4,310.4 773.5,300 773.6,305.6 773.8,303.3 773.9,303.1 774,309.3 774.2,305.4 774.3,306.9 774.4,308.4 774.6,309.9 774.7,311.6 774.9,300.7 775,309.9 775.1,302.7 775.3,310.6 775.4,310.6 775.5,303.5 775.7,309.4 775.8,305.6 775.9,302.2 776.1,310.9 776.2,304.5 776.4,312.8 776.5,309.3 776.6,305.6 776.8,309.8 776.9,307.1 777,303.6 777.2,302.9 777.3,309.6 777.4,307.8 777.6,306.8 777.7,310.1 777.8,309.1 778,304.4 778.1,309.3 778.3,303.1 778.4,306.2 778.5,309 778.7,303.2 778.8,309.2 778.9,311.7 779.1,303.4 779.2,311 779.3,312.1 779.5,305.1 779.6,300 779.8,299.2 779.9,305.2 780,306.7 780.2,308.8 780.3,305.6 780.4,301.5 780.6,311.5 780.7,309.4 780.8,310.2 781,307.4 781.1,306.6 781.2,312.3 781.4,303 781.5,306 781.7,310.9 781.8,313.5 781.9,304.3 782.1,305.3 782.2,304 782.3,308.3 782.5,305.3 782.6,310.3 782.7,308.8 782.9,302.3 783,304.1 783.1,302 783.3,308.7 783.4,305.5 783.6,314.2 783.7,304.5 783.8,309.3 784,314.7 784.1,311.2 784.2,306.7 784.4,309.9 784.5,310.2 784.6,304.3 784.8,311.8 784.9,304.8 785.1,302.7 785.2,312 785.3,310.7 785.5,309.4 785.6,309.5 785.7,311.1 785.9,314.9 786,307 786.1,309.5 786.3,303.4 786.4,302.7 786.5,306.5 786.7,300.9 786.8,311 787,302.2 787.1,312.8 787.2,287.5 787.4,315.8 787.5,311 787.6,316.8 787.8,307.1 787.9,311.9 788,305.3 788.2,306.2 788.3,307.9 788.5,300.2 788.6,305.3 788.7,304.6 788.9,306.5 789,306.7 789.1,311.7 789.3,315.1 789.4,307.8 789.5,317.6 789.7,316.2 789.8,312.8 789.9,317.4 790.1,314.2 790.2,313.8 790.4,311.8 790.5,311.2 790.6,309.5 790.8,310.3 790.9,312.1 791,308.6 791.2,309.7 791.3,308.2 791.4,314.4 791.6,312.4 791.7,304.2 791.8,304.4 792,309.5 792.1,307.3 792.3,303.9 792.4,304.3 792.5,310 792.7,310.6 792.8,312 792.9,310 793.1,309.1 793.2,304.8 793.3,305 793.5,309.1 793.6,305 793.8,308.1 793.9,313.5 794,311.1 794.2,306.3 794.3,313.5 794.4,316.7 794.6,314.4 794.7,307 794.8,308.6 795,311.8 795.1,306.3 795.2,307.3 795.4,314.4 795.5,303.6 795.7,305 795.8,304.1 795.9,307.6 796.1,300.6 796.2,312.6 796.3,304.4 796.5,307 796.6,304.9 796.7,308.4 796.9,300.3 797,308.5 797.2,308.2 797.3,303.5 797.4,300.3 797.6,306.7 797.7,307.7 797.8,311.8 798,300 798.1,307.3 798.2,306.3 798.4,307.8 798.5,312.4 798.6,309.3 798.8,302.4 798.9,315.8 799.1,309.8 799.2,308.3 799.3,304.9 799.5,310 799.6,308 799.7,305.3 799.9,307.3 800,310.9 800.1,307.1 800.3,302 800.4,307.1 800.5,314.3 800.7,309.8 800.8,308.5 801,311 801.1,310.5 801.2,304.1 801.4,305.1 801.5,305.3"/>
<rect x="802.1" y="140.8" width="4" height="10.8" fill="#ff2410" stroke="#2e0614" stroke-width="1.45"/><rect x="802.1" y="153.5" width="8" height="10.8" fill="#ff2410" stroke="#2e0614" stroke-width="1.45"/><rect x="802.1" y="166.2" width="11.5" height="10.8" fill="#ff2410" stroke="#2e0614" stroke-width="1.45"/><rect x="802.1" y="178.9" width="17" height="10.8" fill="#ff2410" stroke="#2e0614" stroke-width="1.45"/><rect x="802.1" y="191.6" width="15" height="10.8" fill="#ff2410" stroke="#2e0614" stroke-width="1.45"/><rect x="802.1" y="204.2" width="13.5" height="10.8" fill="#ff2410" stroke="#2e0614" stroke-width="1.45"/><rect x="802.1" y="216.9" width="32.7" height="10.8" fill="#ff2410" stroke="#2e0614" stroke-width="1.45"/><rect x="802.1" y="229.6" width="42" height="10.8" fill="#ff2410" stroke="#2e0614" stroke-width="1.45"/><rect x="802.1" y="242.3" width="37.7" height="10.8" fill="#ff2410" stroke="#2e0614" stroke-width="1.45"/><rect x="802.1" y="255" width="28" height="10.8" fill="#ff2410" stroke="#2e0614" stroke-width="1.45"/><rect x="802.1" y="267.7" width="12" height="10.8" fill="#ff2410" stroke="#2e0614" stroke-width="1.45"/><rect x="802.1" y="280.4" width="8.4" height="10.8" fill="#ff2410" stroke="#2e0614" stroke-width="1.45"/><rect x="802.1" y="293.1" width="108" height="10.8" fill="#ff2410" stroke="#2e0614" stroke-width="1.45"/><rect x="802.1" y="305.8" width="20" height="10.8" fill="#ff2410" stroke="#2e0614" stroke-width="1.45"/>
<polyline points="803.8,318.6 804.2,318.1 804.7,317.6 805.4,317.1 806.2,316.6 807.1,316.1 808.1,315.6 809.4,315.1 810.9,314.6 812.6,314.1 814.6,313.5 816.8,313 819.3,312.5 822.1,312 825.3,311.5 828.7,311 832.5,310.5 836.6,310 841,309.5 845.7,309 850.6,308.5 855.8,308 861.1,307.5 866.5,306.9 872,306.4 877.5,305.9 882.8,305.4 888,304.9 893,304.4 897.6,303.9 901.8,303.4 905.6,302.9 908.8,302.4 911.4,301.9 913.3,301.4 914.6,300.9 915.1,300.3 914.9,299.8 914,299.3 912.4,298.8 910.2,298.3 907.3,297.8 903.8,297.3 899.8,296.8 895.4,296.3 890.6,295.8 885.5,295.3 880.3,294.8 874.8,294.3 869.4,293.7 863.9,293.2 858.6,292.7 853.3,292.2 848.3,291.7 843.5,291.2 839,290.7 834.8,290.2 830.8,289.7 827.2,289.2 824,288.7 821,288.2 818.4,287.7 816,287.1 814,286.6 812.2,286.1 810.7,285.6 809.3,285.1 808.2,284.6 807.3,284.1 806.5,283.6 805.9,283.1 805.4,282.6 805,282.1 804.7,281.6 804.5,281 804.3,280.5 804.3,280 804.2,279.5 804.2,279 804.3,278.5 804.3,278 804.4,277.5 804.6,277 804.7,276.5 804.9,276 805.1,275.5 805.3,275 805.5,274.4 805.7,273.9 806,273.4 806.3,272.9 806.6,272.4 806.9,271.9 807.2,271.4 807.6,270.9 807.9,270.4 808.3,269.9 808.7,269.4 809.1,268.9 809.6,268.4 810,267.8 810.5,267.3 811,266.8 811.5,266.3 812,265.8 812.6,265.3 813.2,264.8 813.8,264.3 814.4,263.8 815,263.3 815.6,262.8 816.3,262.3 817,261.8 817.7,261.2 818.4,260.7 819.2,260.2 819.9,259.7 820.7,259.2 821.5,258.7 822.2,258.2 823,257.7 823.8,257.2 824.7,256.7 825.5,256.2 826.3,255.7 827.2,255.2 828,254.6 828.8,254.1 829.7,253.6 830.5,253.1 831.3,252.6 832.1,252.1 833,251.6 833.8,251.1 834.5,250.6 835.3,250.1 836.1,249.6 836.8,249.1 837.5,248.6 838.2,248 838.9,247.5 839.6,247 840.2,246.5 840.8,246 841.4,245.5 841.9,245 842.4,244.5 842.9,244 843.3,243.5 843.7,243 844,242.5 844.3,241.9 844.6,241.4 844.8,240.9 845,240.4 845.2,239.9 845.3,239.4 845.3,238.9 845.4,238.4 845.3,237.9 845.3,237.4 845.2,236.9 845,236.4 844.8,235.9 844.6,235.3 844.3,234.8 844,234.3 843.7,233.8 843.3,233.3 842.9,232.8 842.4,232.3 842,231.8 841.5,231.3 840.9,230.8 840.3,230.3 839.8,229.8 839.1,229.3 838.5,228.7 837.9,228.2 837.2,227.7 836.5,227.2 835.8,226.7 835.1,226.2 834.4,225.7 833.7,225.2 832.9,224.7 832.2,224.2 831.5,223.7 830.8,223.2 830,222.7 829.3,222.1 828.6,221.6 827.9,221.1 827.2,220.6 826.5,220.1 825.8,219.6 825.2,219.1 824.5,218.6 823.9,218.1 823.3,217.6 822.7,217.1 822.1,216.6 821.6,216.1 821.1,215.5 820.6,215 820.1,214.5 819.6,214 819.2,213.5 818.8,213 818.4,212.5 818,212 817.7,211.5 817.4,211 817.1,210.5 816.8,210 816.6,209.4 816.4,208.9 816.2,208.4 816,207.9 815.8,207.4 815.7,206.9 815.6,206.4 815.5,205.9 815.4,205.4 815.4,204.9 815.3,204.4 815.3,203.9 815.3,203.4 815.3,202.8 815.3,202.3 815.4,201.8 815.4,201.3 815.5,200.8 815.5,200.3 815.6,199.8 815.7,199.3 815.8,198.8 815.9,198.3 816,197.8 816.1,197.3 816.2,196.8 816.3,196.2 816.5,195.7 816.6,195.2 816.7,194.7 816.8,194.2 817,193.7 817.1,193.2 817.2,192.7 817.3,192.2 817.4,191.7 817.5,191.2 817.6,190.7 817.7,190.2 817.8,189.6 817.9,189.1 817.9,188.6 818,188.1 818.1,187.6 818.1,187.1 818.2,186.6 818.2,186.1 818.2,185.6 818.2,185.1 818.2,184.6 818.2,184.1 818.2,183.6 818.2,183 818.1,182.5 818.1,182 818,181.5 818,181 817.9,180.5 817.8,180 817.7,179.5 817.6,179 817.5,178.5 817.3,178 817.2,177.5 817,177 816.9,176.4 816.7,175.9 816.6,175.4 816.4,174.9 816.2,174.4 816,173.9 815.8,173.4 815.6,172.9 815.4,172.4 815.1,171.9 814.9,171.4 814.7,170.9 814.5,170.3 814.2,169.8 814,169.3 813.7,168.8 813.5,168.3 813.2,167.8 813,167.3 812.7,166.8 812.5,166.3 812.2,165.8 811.9,165.3 811.7,164.8 811.4,164.3 811.2,163.7 810.9,163.2 810.6,162.7 810.4,162.2 810.1,161.7 809.9,161.2 809.6,160.7 809.4,160.2 809.2,159.7 808.9,159.2 808.7,158.7 808.4,158.2 808.2,157.7 808,157.1 807.8,156.6 807.6,156.1 807.3,155.6 807.1,155.1 806.9,154.6 806.7,154.1 806.5,153.6 806.4,153.1 806.2,152.6 806,152.1 805.8,151.6 805.7,151.1 805.5,150.5 805.3,150 805.2,149.5 805,149 804.9,148.5 804.8,148 804.6,147.5 804.5,147 804.4,146.5 804.3,146 804.2,145.5 804,145 803.9,144.5 803.8,143.9 803.7,143.4 803.7,142.9 803.6,142.4 803.5,141.9 803.4,141.4 803.3,140.9" fill="none" stroke="#000" stroke-width="2.1" stroke-dasharray="2.1 3.5"/>
<g><rect x="618.8" y="112" width="12.8" height="34" rx="2.2" ry="1.6" fill="#4a7e74" stroke="#10201c" stroke-width="1.5"/><path d="M619.6 113.6 q5.6 2.4 11.2 0" fill="none" stroke="#3a6a60" stroke-width="1"/><path d="M623.6 113.2 v-5.2 q-6.2 -1 -6.6 -8.6 h3 q0.6 5.6 5.2 5.6 q4.6 0 5.2 -5.6 h3 q-0.4 7.6 -6.6 8.6 v5.2 z" fill="#4a7e74" stroke="#10201c" stroke-width="1.45" stroke-linejoin="round"/><circle cx="625.2" cy="99.6" r="4.4" fill="#d42c6c" stroke="#10201c" stroke-width="1.4"/><g transform="translate(617.5,90.6)"><line x1="0" y1="0" x2="5.5" y2="1.1" stroke="#000" stroke-width="2.2"/><line x1="0" y1="0" x2="3.1" y2="4.7" stroke="#000" stroke-width="2.2"/><line x1="0" y1="0" x2="-1.1" y2="5.5" stroke="#000" stroke-width="2.2"/><line x1="0" y1="0" x2="-4.7" y2="3.1" stroke="#000" stroke-width="2.2"/><line x1="0" y1="0" x2="-5.5" y2="-1.1" stroke="#000" stroke-width="2.2"/><line x1="0" y1="0" x2="-3.1" y2="-4.7" stroke="#000" stroke-width="2.2"/><line x1="0" y1="0" x2="1.1" y2="-5.5" stroke="#000" stroke-width="2.2"/><line x1="0" y1="0" x2="4.7" y2="-3.1" stroke="#000" stroke-width="2.2"/><circle r="3.7" fill="#000"/><circle r="1.8" fill="#e6ee3c"/></g></g><g><rect x="631.4" y="112" width="12.8" height="34" rx="2.2" ry="1.6" fill="#4a7e74" stroke="#10201c" stroke-width="1.5"/><path d="M632.2 113.6 q5.6 2.4 11.2 0" fill="none" stroke="#3a6a60" stroke-width="1"/><path d="M636.2 113.2 v-5.2 q-6.2 -1 -6.6 -8.6 h3 q0.6 5.6 5.2 5.6 q4.6 0 5.2 -5.6 h3 q-0.4 7.6 -6.6 8.6 v5.2 z" fill="#4a7e74" stroke="#10201c" stroke-width="1.45" stroke-linejoin="round"/><circle cx="637.8" cy="99.6" r="4.4" fill="#d42c6c" stroke="#10201c" stroke-width="1.4"/><g transform="translate(645.5,90.6)"><line x1="0" y1="0" x2="5.5" y2="1.1" stroke="#000" stroke-width="2.2"/><line x1="0" y1="0" x2="3.1" y2="4.7" stroke="#000" stroke-width="2.2"/><line x1="0" y1="0" x2="-1.1" y2="5.5" stroke="#000" stroke-width="2.2"/><line x1="0" y1="0" x2="-4.7" y2="3.1" stroke="#000" stroke-width="2.2"/><line x1="0" y1="0" x2="-5.5" y2="-1.1" stroke="#000" stroke-width="2.2"/><line x1="0" y1="0" x2="-3.1" y2="-4.7" stroke="#000" stroke-width="2.2"/><line x1="0" y1="0" x2="1.1" y2="-5.5" stroke="#000" stroke-width="2.2"/><line x1="0" y1="0" x2="4.7" y2="-3.1" stroke="#000" stroke-width="2.2"/><circle r="3.7" fill="#000"/><circle r="1.8" fill="#e6ee3c"/></g></g>
<g><rect x="683.3" y="177.3" width="12.8" height="34" rx="2.2" ry="1.6" fill="#4a7e74" stroke="#10201c" stroke-width="1.5"/><path d="M684.1 178.9 q5.6 2.4 11.2 0" fill="none" stroke="#3a6a60" stroke-width="1"/><path d="M688.1 178.5 v-5.2 q-6.2 -1 -6.6 -8.6 h3 q0.6 5.6 5.2 5.6 q4.6 0 5.2 -5.6 h3 q-0.4 7.6 -6.6 8.6 v5.2 z" fill="#4a7e74" stroke="#10201c" stroke-width="1.45" stroke-linejoin="round"/><circle cx="689.7" cy="164.9" r="4.4" fill="#d42c6c" stroke="#10201c" stroke-width="1.4"/><g transform="translate(682,155.9)"><line x1="0" y1="0" x2="5.5" y2="1.1" stroke="#000" stroke-width="2.2"/><line x1="0" y1="0" x2="3.1" y2="4.7" stroke="#000" stroke-width="2.2"/><line x1="0" y1="0" x2="-1.1" y2="5.5" stroke="#000" stroke-width="2.2"/><line x1="0" y1="0" x2="-4.7" y2="3.1" stroke="#000" stroke-width="2.2"/><line x1="0" y1="0" x2="-5.5" y2="-1.1" stroke="#000" stroke-width="2.2"/><line x1="0" y1="0" x2="-3.1" y2="-4.7" stroke="#000" stroke-width="2.2"/><line x1="0" y1="0" x2="1.1" y2="-5.5" stroke="#000" stroke-width="2.2"/><line x1="0" y1="0" x2="4.7" y2="-3.1" stroke="#000" stroke-width="2.2"/><circle r="3.7" fill="#000"/><circle r="1.8" fill="#e6ee3c"/></g></g><g><line x1="711" y1="156.2" x2="702.3" y2="164.9" stroke="#10201c" stroke-width="1.3"/><circle cx="711" cy="156.2" r="2.6" fill="#6a6a6a" stroke="#10201c" stroke-width="1.1"/><rect x="695.9" y="177.3" width="12.8" height="34" rx="2.2" ry="1.6" fill="#4a7e74" stroke="#10201c" stroke-width="1.5"/><path d="M696.7 178.9 q5.6 2.4 11.2 0" fill="none" stroke="#3a6a60" stroke-width="1"/><path d="M700.7 178.5 v-5.2 q-6.2 -1 -6.6 -8.6 h3 q0.6 5.6 5.2 5.6 q4.6 0 5.2 -5.6 h3 q-0.4 7.6 -6.6 8.6 v5.2 z" fill="#4a7e74" stroke="#10201c" stroke-width="1.45" stroke-linejoin="round"/><circle cx="702.3" cy="164.9" r="4.4" fill="#d42c6c" stroke="#10201c" stroke-width="1.4"/></g>
<g><line x1="746.2" y1="222.1" x2="754.9" y2="230.8" stroke="#10201c" stroke-width="1.3"/><circle cx="746.2" cy="222.1" r="2.6" fill="#6a6a6a" stroke="#10201c" stroke-width="1.1"/><rect x="748.5" y="243.2" width="12.8" height="34" rx="2.2" ry="1.6" fill="#4a7e74" stroke="#10201c" stroke-width="1.5"/><path d="M749.3 244.8 q5.6 2.4 11.2 0" fill="none" stroke="#3a6a60" stroke-width="1"/><path d="M753.3 244.4 v-5.2 q-6.2 -1 -6.6 -8.6 h3 q0.6 5.6 5.2 5.6 q4.6 0 5.2 -5.6 h3 q-0.4 7.6 -6.6 8.6 v5.2 z" fill="#4a7e74" stroke="#10201c" stroke-width="1.45" stroke-linejoin="round"/><circle cx="754.9" cy="230.8" r="4.4" fill="#d42c6c" stroke="#10201c" stroke-width="1.4"/></g><g><line x1="776.2" y1="222.1" x2="767.5" y2="230.8" stroke="#10201c" stroke-width="1.3"/><circle cx="776.2" cy="222.1" r="2.6" fill="#6a6a6a" stroke="#10201c" stroke-width="1.1"/><rect x="761.1" y="243.2" width="12.8" height="34" rx="2.2" ry="1.6" fill="#4a7e74" stroke="#10201c" stroke-width="1.5"/><path d="M761.9 244.8 q5.6 2.4 11.2 0" fill="none" stroke="#3a6a60" stroke-width="1"/><path d="M765.9 244.4 v-5.2 q-6.2 -1 -6.6 -8.6 h3 q0.6 5.6 5.2 5.6 q4.6 0 5.2 -5.6 h3 q-0.4 7.6 -6.6 8.6 v5.2 z" fill="#4a7e74" stroke="#10201c" stroke-width="1.45" stroke-linejoin="round"/><circle cx="767.5" cy="230.8" r="4.4" fill="#d42c6c" stroke="#10201c" stroke-width="1.4"/></g>
<rect x="597.6" y="82.5" width="348" height="253.9" fill="none" stroke="#000" stroke-width="3"/><line x1="801.5" y1="82.5" x2="801.5" y2="336.4" stroke="#000" stroke-width="3"/><line x1="593.2" y1="336.4" x2="597.6" y2="336.4" stroke="#000" stroke-width="2.6"/><text class="t n" x="590" y="345.3" text-anchor="end">0</text><line x1="593.2" y1="272.9" x2="597.6" y2="272.9" stroke="#000" stroke-width="2.6"/><text class="t n" x="590" y="281.8" text-anchor="end">500</text><line x1="593.2" y1="209.4" x2="597.6" y2="209.4" stroke="#000" stroke-width="2.6"/><text class="t n" x="590" y="218.3" text-anchor="end">1000</text><line x1="593.2" y1="146" x2="597.6" y2="146" stroke="#000" stroke-width="2.6"/><text class="t n" x="590" y="154.9" text-anchor="end">1500</text><line x1="593.2" y1="82.5" x2="597.6" y2="82.5" stroke="#000" stroke-width="2.6"/><text class="t n" x="590" y="91.4" text-anchor="end">2000</text><line x1="597.6" y1="336.4" x2="597.6" y2="339.9" stroke="#000" stroke-width="2.6"/><text class="t n" x="597.3" y="364" text-anchor="middle">0</text><line x1="665.6" y1="336.4" x2="665.6" y2="339.9" stroke="#000" stroke-width="2.6"/><line x1="665.6" y1="82.5" x2="665.6" y2="85.9" stroke="#000" stroke-width="2.6"/><text class="t n" x="665.3" y="364" text-anchor="middle">500</text><line x1="733.5" y1="336.4" x2="733.5" y2="339.9" stroke="#000" stroke-width="2.6"/><line x1="733.5" y1="82.5" x2="733.5" y2="85.9" stroke="#000" stroke-width="2.6"/><text class="t n" x="733.2" y="364" text-anchor="middle">1000</text><line x1="801.5" y1="336.4" x2="801.5" y2="339.9" stroke="#000" stroke-width="2.6"/><text class="t r n" x="801.3" y="364" text-anchor="middle">0</text><line x1="873.5" y1="336.4" x2="873.5" y2="339.9" stroke="#000" stroke-width="2.6"/><line x1="873.5" y1="82.5" x2="873.5" y2="85.9" stroke="#000" stroke-width="2.6"/><text class="t r n" x="873.3" y="364" text-anchor="middle">300</text><line x1="945.6" y1="336.4" x2="945.6" y2="339.9" stroke="#000" stroke-width="2.6"/><text class="t r n" x="945.4" y="364" text-anchor="middle">600</text><text class="t" x="703.8" y="406.5" text-anchor="middle">Frames</text><text class="t r" x="878.1" y="406.5" text-anchor="middle">Frequency</text><text class="t" transform="translate(515.8,407.2) rotate(-90)" style="letter-spacing:-0.3px">Fluorescence</text><text class="t" transform="translate(515.8,226.1) rotate(-90)" style="letter-spacing:0.5px">intensity</text><text class="t" transform="translate(515.8,106.4) rotate(-90)" style="letter-spacing:0px">/</text><text class="t" transform="translate(515.8,87.1) rotate(-90)" style="letter-spacing:-1.2px">a.u.</text>
</g>
<g id="A2">
<polyline class="tr" points="103.5,626.4 103.6,623.2 103.7,624.6 103.7,610.1 103.8,611.8 103.9,617.1 104,579.7 104.1,600.5 104.1,600.2 104.2,624.3 104.3,623.9 104.4,624 104.5,580.1 104.6,627.7 104.6,631.1 104.7,632.7 104.8,639.5 104.9,622.2 105,620.8 105,652.5 105.1,608.4 105.2,635.3 105.3,621.3 105.4,645.8 105.4,622.4 105.5,623.3 105.6,619.2 105.7,604 105.8,604.1 105.9,622 105.9,608.1 106,588.8 106.1,606.4 106.2,611.9 106.3,621.7 106.3,594.7 106.4,610.6 106.5,607.6 106.6,609.4 106.7,625.2 106.7,628.8 106.8,627.1 106.9,614.5 107,620.9 107.1,613.4 107.2,594.6 107.2,605.1 107.3,609.6 107.4,582.8 107.5,609 107.6,621.4 107.6,631.6 107.7,613.6 107.8,598.4 107.9,581.1 108,609.4 108,596.3 108.1,605.3 108.2,622.3 108.3,592.6 108.4,597.4 108.5,580.8 108.5,588.9 108.6,565 108.7,583.9 108.8,577 108.9,583.8 108.9,585.7 109,598.9 109.1,618.3 109.2,585.4 109.3,583.5 109.3,584.9 109.4,584.1 109.5,581.7 109.6,589.1 109.7,610.9 109.7,601.3 109.8,630.2 109.9,592.4 110,607 110.1,620.7 110.2,599.3 110.2,606.7 110.3,611.2 110.4,592 110.5,618.5 110.6,604.2 110.6,585.9 110.7,604.3 110.8,585.8 110.9,611.9 111,632.4 111,620.3 111.1,593.4 111.2,614.7 111.3,626.7 111.4,604.1 111.5,589.7 111.5,589.4 111.6,610 111.7,615.1 111.8,604.5 111.9,591.6 111.9,629.2 112,582.7 112.1,609.2 112.2,584.5 112.3,569.4 112.3,600.1 112.4,578.7 112.5,592.9 112.6,620.6 112.7,588.9 112.8,590.3 112.8,584.2 112.9,587 113,599.7 113.1,596.6 113.2,590.8 113.2,631.5 113.3,596 113.4,623.1 113.5,600.2 113.6,639.1 113.6,613.1 113.7,625.2 113.8,604.4 113.9,612.7 114,626.1 114.1,609.5 114.1,621 114.2,598.4 114.3,608.9 114.4,619.1 114.5,606.7 114.5,607.1 114.6,616.6 114.7,611.2 114.8,621.1 114.9,612.1 114.9,616.5 115,612 115.1,632.2 115.2,601.3 115.3,599.6 115.3,589.5 115.4,599.2 115.5,620 115.6,602.1 115.7,612.5 115.8,579.6 115.8,574.7 115.9,584.5 116,589 116.1,615.6 116.2,594.4 116.2,591.4 116.3,593.6 116.4,576.1 116.5,605.8 116.6,611 116.6,603.3 116.7,619 116.8,595.6 116.9,611.1 117,610.1 117.1,603.5 117.1,597.2 117.2,582 117.3,577 117.4,621 117.5,578.7 117.5,610.7 117.6,590.4 117.7,604.6 117.8,602.2 117.9,598 117.9,588.3 118,602.7 118.1,607.6 118.2,614.7 118.3,596.1 118.4,614.3 118.4,623.8 118.5,620.3 118.6,616.3 118.7,601.1 118.8,625.3 118.8,631.1 118.9,624 119,623.5 119.1,610.3 119.2,602.7 119.2,635.6 119.3,630 119.4,613.7 119.5,598.2 119.6,622.3 119.7,625.4 119.7,606.7 119.8,640.8 119.9,614.5 120,637.2 120.1,639.2 120.1,630.3 120.2,593.7 120.3,619.7 120.4,614.7 120.5,606.5 120.5,636.2 120.6,644.2 120.7,632.1 120.8,604.5 120.9,619 120.9,609 121,610.2 121.1,605 121.2,579 121.3,588.8 121.4,614.4 121.4,585.8 121.5,602.9 121.6,594.6 121.7,623.6 121.8,629.7 121.8,636.3 121.9,626.5 122,614.9 122.1,586.9 122.2,621 122.2,608.2 122.3,603.5 122.4,597.6 122.5,592.5 122.6,607 122.7,604.3 122.7,648.4 122.8,618.6 122.9,595.5 123,618.8 123.1,597.7 123.1,617.8 123.2,626.4 123.3,599.9 123.4,590.3 123.5,617.2 123.5,605.5 123.6,585.3 123.7,579.8 123.8,593.1 123.9,614.9 124,614.1 124,597.8 124.1,613.6 124.2,594.6 124.3,604.6 124.4,599.1 124.4,610.3 124.5,626.4 124.6,607.1 124.7,618.7 124.8,587.5 124.8,614.9 124.9,602.4 125,601.8 125.1,614.3 125.2,615.1 125.3,631.6 125.3,606.2 125.4,620.7 125.5,598 125.6,592.6 125.7,586 125.7,569.6 125.8,586.8 125.9,594.2 126,587.4 126.1,588.6 126.1,574 126.2,582.4 126.3,577.8 126.4,570.4 126.5,594 126.5,591.6 126.6,584.1 126.7,591.9 126.8,582.9 126.9,593.1 127,589.7 127,591.4 127.1,609.9 127.2,601.9 127.3,594.8 127.4,608.7 127.4,618.4 127.5,629 127.6,621.6 127.7,612.2 127.8,618.4 127.8,625.6 127.9,598.6 128,614.8 128.1,621.5 128.2,619.7 128.3,607 128.3,626.1 128.4,629 128.5,584.6 128.6,582.5 128.7,587 128.7,598 128.8,603.5 128.9,590.8 129,591.2 129.1,573 129.1,582.1 129.2,611.7 129.3,607.9 129.4,623.3 129.5,614.9 129.6,625.6 129.6,612.6 129.7,593.3 129.8,597.9 129.9,623.3 130,632.3 130,630.2 130.1,601.1 130.2,628.8 130.3,628.9 130.4,629.2 130.4,613.1 130.5,592.8 130.6,598 130.7,587.7 130.8,594.8 130.9,572.3 130.9,584.4 131,608.5 131.1,578.9 131.2,556.7 131.3,606.2 131.3,615 131.4,641.1 131.5,596.2 131.6,618.8 131.7,638.3 131.7,632.3 131.8,641.2 131.9,600.8 132,618.1 132.1,576.4 132.1,597 132.2,637.4 132.3,600 132.4,612.3 132.5,592.8 132.6,600.6 132.6,581.5 132.7,603.6 132.8,585.8 132.9,583.1 133,576 133,562.8 133.1,571 133.2,592 133.3,597.5 133.4,590.7 133.4,581 133.5,588 133.6,580.7 133.7,596.7 133.8,619.2 133.9,625 133.9,601.8 134,616.3 134.1,614.9 134.2,618.6 134.3,604.8 134.3,606.1 134.4,578.4 134.5,603.7 134.6,616.8 134.7,621 134.7,626.8 134.8,594.4 134.9,601.7 135,611.1 135.1,610.3 135.2,598.9 135.2,588.2 135.3,579.6 135.4,601.4 135.5,608.9 135.6,608.1 135.6,584.2 135.7,601 135.8,595 135.9,581.5 136,618.2 136,588.5 136.1,612.9 136.2,587.7 136.3,569.9 136.4,579.3 136.5,599.9 136.5,590.4 136.6,582.4 136.7,567.2 136.8,576.8 136.9,605.7 136.9,634.4 137,644.8 137.1,642.1 137.2,614.7 137.3,634.3 137.3,585 137.4,606.6 137.5,606.9 137.6,616.3 137.7,608 137.7,590.4 137.8,630.8 137.9,608.7 138,614.8 138.1,607.4 138.2,583.8 138.2,599.1 138.3,611.4 138.4,595.6 138.5,578.9 138.6,587.7 138.6,600 138.7,608.3 138.8,598.4 138.9,597.6 139,596.4 139,596 139.1,591.5 139.2,571 139.3,625.4 139.4,589.7 139.5,628.4 139.5,608.8 139.6,609 139.7,620 139.8,636.7 139.9,631 139.9,609.2 140,644.9 140.1,609 140.2,613.9 140.3,613.1 140.3,613.6 140.4,590.8 140.5,608.8 140.6,606 140.7,609.3 140.8,612.3 140.8,607.2 140.9,586.9 141,619.9 141.1,624.4 141.2,579.5 141.2,626.7 141.3,624.3 141.4,602.5 141.5,595.6 141.6,608.2 141.6,585.7 141.7,581.4 141.8,590.8 141.9,599 142,594.7 142.1,615.4 142.1,614.4 142.2,611.7 142.3,622.7 142.4,587 142.5,608.6 142.5,586.6 142.6,606.1 142.7,615.4 142.8,629.9 142.9,619.1 142.9,603.3 143,604.3 143.1,593 143.2,579.8 143.3,602.6 143.3,608.1 143.4,590.3 143.5,586.4 143.6,610.6 143.7,622.3 143.8,607.1 143.8,608.1 143.9,577.7 144,608.6 144.1,602.3 144.2,579.9 144.2,601.7 144.3,619.7 144.4,602.7 144.5,614.8 144.6,638.7 144.6,621.5 144.7,613.1 144.8,612.8 144.9,578.3 145,608.2 145.1,624.4 145.1,608.2 145.2,594.2 145.3,608.6 145.4,600.2 145.5,599 145.5,603.2 145.6,627.9 145.7,623.8 145.8,613.6 145.9,612.4 145.9,612.7 146,608.5 146.1,633.8 146.2,614.4 146.3,612.3 146.4,617.4 146.4,533.9 146.5,500.3 146.6,536.5 146.7,618.6 146.8,621.8 146.8,621.9 146.9,604.5 147,636.1 147.1,625.3 147.2,609.2 147.2,608.7 147.3,629.3 147.4,606.5 147.5,614.2 147.6,592.5 147.7,593.5 147.7,595.3 147.8,602.1 147.9,610.1 148,619.5 148.1,623.4 148.1,624.4 148.2,601.7 148.3,616.1 148.4,607.2 148.5,627.4 148.5,617.5 148.6,620 148.7,612.6 148.8,612.7 148.9,595 148.9,610 149,619.5 149.1,576.5 149.2,600.6 149.3,603 149.4,636.4 149.4,615.7 149.5,604.4 149.6,624.6 149.7,603 149.8,566.6 149.8,609.7 149.9,595.2 150,598.9 150.1,598 150.2,618.3 150.2,613.9 150.3,584 150.4,622.7 150.5,595.2 150.6,592.7 150.7,616.5 150.7,614 150.8,614.3 150.9,607.7 151,604.7 151.1,601.6 151.1,612.9 151.2,621.4 151.3,609.2 151.4,619.3 151.5,588.5 151.5,641.1 151.6,607.7 151.7,627.5 151.8,608.7 151.9,617 152,604.7 152,599 152.1,595.6 152.2,591.9 152.3,569.3 152.4,602.1 152.4,576.8 152.5,598.7 152.6,635.3 152.7,600.1 152.8,613.8 152.8,620.4 152.9,587.9 153,572.8 153.1,570.1 153.2,611.8 153.3,615 153.3,605.3 153.4,587.6 153.5,618.3 153.6,607 153.7,618.7 153.7,623.4 153.8,597 153.9,614.2 154,596.9 154.1,613.3 154.1,636.7 154.2,622.9 154.3,612 154.4,609 154.5,614.2 154.5,608.7 154.6,598 154.7,612.3 154.8,571 154.9,618.3 155,588.5 155,592.4 155.1,594.8 155.2,580.8 155.3,580.9 155.4,580.6 155.4,586 155.5,587.5 155.6,571.7 155.7,588 155.8,608.9 155.8,622.2 155.9,606 156,609.5 156.1,594.2 156.2,603.7 156.3,616.3 156.3,620.7 156.4,607.9 156.5,626.3 156.6,634.1 156.7,611.6 156.7,579.9 156.8,594.6 156.9,586.5 157,586.7 157.1,606.7 157.1,596.5 157.2,580.1 157.3,590.7 157.4,607.8 157.5,608.5 157.6,636.7 157.6,600.6 157.7,596.5 157.8,586.7 157.9,602.1 158,620.1 158,589.3 158.1,616.9 158.2,625.6 158.3,629.3 158.4,617.1 158.4,606.3 158.5,621.4 158.6,625.2 158.7,621.5 158.8,603.8 158.9,628.1 158.9,606.3 159,606.2 159.1,579.4 159.2,576.6 159.3,577.8 159.3,595.3 159.4,584.1 159.5,591.7 159.6,607.2 159.7,605.6 159.7,603.9 159.8,584.6 159.9,614.6 160,604.2 160.1,602 160.1,593.5 160.2,604.2 160.3,629.9 160.4,618.6 160.5,587.6 160.6,581.1 160.6,598.4 160.7,615.4 160.8,617.9 160.9,600.5 161,605.7 161,611.9 161.1,612.6 161.2,615.7 161.3,592.1 161.4,620.7 161.4,601.9 161.5,610.5 161.6,601 161.7,627.7 161.8,604.7 161.9,590.4 161.9,593.2 162,607.4 162.1,597.8 162.2,588 162.3,588.5 162.3,605.1 162.4,607.4 162.5,601.6 162.6,584.6 162.7,599.5 162.7,605.8 162.8,599.5 162.9,621.4 163,590 163.1,619.2 163.2,598.7 163.2,618 163.3,611.3 163.4,583.7 163.5,590.5 163.6,599.1 163.6,613 163.7,613.5 163.8,623 163.9,607.1 164,612.5 164,609.7 164.1,601 164.2,613.8 164.3,589 164.4,606.7 164.5,607.4 164.5,627 164.6,605.6 164.7,615.4 164.8,624.9 164.9,621.5 164.9,585 165,619.4 165.1,583.5 165.2,613.8 165.3,604.1 165.3,610.6 165.4,598.6 165.5,604.4 165.6,590.1 165.7,608.6 165.7,608.6 165.8,595.9 165.9,623.7 166,619.7 166.1,602.5 166.2,611.8 166.2,618 166.3,577.3 166.4,584.8 166.5,577.4 166.6,602.6 166.6,599.3 166.7,598.4 166.8,616.3 166.9,596.4 167,597.7 167,613.6 167.1,582.9 167.2,576.8 167.3,580.6 167.4,588.1 167.5,587.3 167.5,604.8 167.6,624.8 167.7,618.1 167.8,626.6 167.9,605.6 167.9,613.7 168,603.4 168.1,596.6 168.2,605.1 168.3,633.7 168.3,618 168.4,626.2 168.5,608 168.6,628.4 168.7,588.9 168.8,612.7 168.8,608.2 168.9,644.5 169,614.1 169.1,621.4 169.2,632 169.2,614.1 169.3,600.9 169.4,614.6 169.5,614.9 169.6,647 169.6,590.7 169.7,599.4 169.8,608.9 169.9,619.5 170,610.9 170.1,600.5 170.1,620.5 170.2,611.3 170.3,571.2 170.4,600.1 170.5,599.5 170.5,602 170.6,596.2 170.7,594.3 170.8,582.9 170.9,573.5 170.9,606.7 171,588.2 171.1,600.6 171.2,583 171.3,587.3 171.3,599.7 171.4,582.8 171.5,591.4 171.6,596.3 171.7,551.5 171.8,562.9 171.8,579.2 171.9,580.7 172,584.9 172.1,565.7 172.2,578.8 172.2,619.4 172.3,591.3 172.4,588.1 172.5,567.9 172.6,579.5 172.6,566.1 172.7,589.5 172.8,578.5 172.9,568.4 173,599.6 173.1,594.4 173.1,586.7 173.2,607.6 173.3,553.6 173.4,622 173.5,608.7 173.5,631.4 173.6,600.3 173.7,614.6 173.8,623.4 173.9,613.2 173.9,594.7 174,610.4 174.1,608.1 174.2,607 174.3,621.2 174.4,624.1 174.4,593.3 174.5,589.6 174.6,595.2 174.7,594.1 174.8,602.8 174.8,602.4 174.9,580 175,586.3 175.1,553.9 175.2,591.2 175.2,603.8 175.3,593.4 175.4,601.9 175.5,594.1 175.6,588.1 175.7,602.4 175.7,582.6 175.8,599.4 175.9,578.1 176,598 176.1,583.8 176.1,600.3 176.2,572.4 176.3,598.6 176.4,603.9 176.5,578.5 176.5,603.9 176.6,610.5 176.7,628.7 176.8,603.7 176.9,604.4 176.9,606.5 177,563.5 177.1,601.4 177.2,576.1 177.3,577.1 177.4,584.3 177.4,612.2 177.5,601.5 177.6,609 177.7,636.7 177.8,623.5 177.8,628.9 177.9,622 178,616.8 178.1,620.6 178.2,629.1 178.2,602.5 178.3,607.8 178.4,618.4 178.5,606.9 178.6,605.4 178.7,615.6 178.7,590.6 178.8,593.5 178.9,606 179,611.9 179.1,609.7 179.1,598.8 179.2,621.1 179.3,618.3 179.4,624.2 179.5,638.1 179.5,593.4 179.6,612 179.7,623.8 179.8,622 179.9,623.7 180,639.3 180,633.8 180.1,621 180.2,618.4 180.3,631.3 180.4,604.8 180.4,614.2 180.5,606.4 180.6,614.6 180.7,613.4 180.8,608.5 180.8,606.6 180.9,583.6 181,620 181.1,582.1 181.2,594.1 181.3,573.3 181.3,579.1 181.4,566.7 181.5,564.4 181.6,558.9 181.7,583.5 181.7,588.4 181.8,611.9 181.9,589.5 182,582.5 182.1,566 182.1,564.7 182.2,553.8 182.3,603.9 182.4,593.1 182.5,591.4 182.5,586.8 182.6,604 182.7,588 182.8,616.1 182.9,577.4 183,591.6 183,617.1 183.1,614.4 183.2,608.1 183.3,592.8 183.4,632.1 183.4,574 183.5,598.7 183.6,591.4 183.7,609.2 183.8,568.6 183.8,552.1 183.9,587.4 184,583.4 184.1,565.7 184.2,554.5 184.3,578.7 184.3,600.4 184.4,593.1 184.5,613 184.6,581.8 184.7,580.5 184.7,595.8 184.8,616.4 184.9,612.6 185,594.8 185.1,583.4 185.1,611.2 185.2,593.5 185.3,613.1 185.4,593.7 185.5,595.8 185.6,608.2 185.6,597.2 185.7,616 185.8,612.2 185.9,608 186,614.8 186,621.6 186.1,597.9 186.2,609.2 186.3,590.8 186.4,618.9 186.4,616.4 186.5,626.9 186.6,617.3 186.7,621.4 186.8,611.1 186.9,630.1 186.9,588.8 187,619.7 187.1,588.9 187.2,604.3 187.3,621.7 187.3,604.8 187.4,612.2 187.5,613.5 187.6,606.3 187.7,584.6 187.7,605.7 187.8,609.4 187.9,624.3 188,620.9 188.1,613 188.1,598.7 188.2,611.5 188.3,604.1 188.4,595.8 188.5,571.8 188.6,568.4 188.6,573.7 188.7,596.2 188.8,603.1 188.9,589.1 189,617.3 189,561 189.1,557.4 189.2,602.2 189.3,608.8 189.4,601.2 189.4,592.2 189.5,616.4 189.6,615.9 189.7,639.6 189.8,627.3 189.9,623.1 189.9,591 190,599.2 190.1,614.9 190.2,615.3 190.3,624.2 190.3,616.6 190.4,606.4 190.5,610.8 190.6,621.9 190.7,592 190.7,570.8 190.8,604.9 190.9,591.8 191,628.6 191.1,583.8 191.2,601.3 191.2,615.1 191.3,614.7 191.4,629.7 191.5,635.6 191.6,630.4 191.6,594.6 191.7,605 191.8,637.3 191.9,629.5 192,610.1 192,628.6 192.1,605.7 192.2,611.4 192.3,609.6 192.4,624.4 192.5,595.5 192.5,597.5 192.6,585.3 192.7,594.4 192.8,591 192.9,603 192.9,601.8 193,589.8 193.1,582.8 193.2,586.6 193.3,570.8 193.3,610.1 193.4,627.5 193.5,606.8 193.6,606.8 193.7,594.7 193.7,620.1 193.8,604.6 193.9,612.2 194,584.3 194.1,580.3 194.2,616.9 194.2,617.2 194.3,582.9 194.4,601.9 194.5,605 194.6,616.1 194.6,581.3 194.7,621.7 194.8,603.4 194.9,632.3 195,607.5 195,625.1 195.1,618.5 195.2,632.6 195.3,645.6 195.4,633.5 195.5,631.2 195.5,605.9 195.6,636.4 195.7,598.9 195.8,629.1 195.9,622.1 195.9,636.7 196,626 196.1,615.1 196.2,606.6 196.3,614.1 196.3,593.4 196.4,611.6 196.5,588.1 196.6,619 196.7,605.1 196.8,583.8 196.8,580.5 196.9,571.2 197,593.8 197.1,599.6 197.2,602.5 197.2,573.9 197.3,597 197.4,598.2 197.5,593.1 197.6,576.2 197.6,597 197.7,623.1 197.8,575.2 197.9,625.3 198,589.9 198.1,617.7 198.1,596.1 198.2,607.2 198.3,626.8 198.4,619.3 198.5,632.6 198.5,594.6 198.6,601 198.7,598.7 198.8,616.5 198.9,626.5 198.9,600.5 199,617.6 199.1,619.6 199.2,629.4 199.3,617.2 199.3,616.2 199.4,581.5 199.5,616.1 199.6,625.7 199.7,581.1 199.8,597.9 199.8,582 199.9,609.1 200,616.8 200.1,573.5 200.2,606.6 200.2,579.5 200.3,603.5 200.4,590.2 200.5,594.1 200.6,602.2 200.6,607 200.7,577.8 200.8,612.3 200.9,557.7 201,575.1 201.1,561.2 201.1,584.7 201.2,630.3 201.3,599.8 201.4,585.9 201.5,590.8 201.5,601 201.6,586.2 201.7,566.8 201.8,595.7 201.9,581.5 201.9,588.1 202,591.4 202.1,609.7 202.2,617.6 202.3,584.9 202.4,601.6 202.4,586.5 202.5,579.3 202.6,583.9 202.7,621.4 202.8,609.9 202.8,633.9 202.9,623.9 203,591.1 203.1,628.3 203.2,593 203.2,571.1 203.3,612.4 203.4,594.3 203.5,562 203.6,601.2 203.7,581.2 203.7,603.8 203.8,590.3 203.9,578.2 204,580.6 204.1,592.7 204.1,591.1 204.2,567.2 204.3,581.5 204.4,566.6 204.5,568.3 204.5,573.9 204.6,570.4 204.7,560.9 204.8,567.3 204.9,573.6 204.9,582.5 205,589.5 205.1,619 205.2,589.7 205.3,583.2 205.4,561.3 205.4,587.9 205.5,587.8 205.6,559 205.7,561.6 205.8,572.5 205.8,598.5 205.9,569.7 206,596.7 206.1,612.5 206.2,623.8 206.2,621.2 206.3,621 206.4,619 206.5,630.1 206.6,640.5 206.7,616.2 206.7,624.3 206.8,595.6 206.9,621.7 207,605.2 207.1,595.7 207.1,586.7 207.2,604.4 207.3,626.3 207.4,648.1 207.5,638.5 207.5,626.4 207.6,628.9 207.7,616 207.8,632.7 207.9,605.2 208,630.6 208,619.2 208.1,600.4 208.2,606.8 208.3,608 208.4,594.4 208.4,609.8 208.5,600.5 208.6,633.9 208.7,605.5 208.8,634.8 208.8,634.1 208.9,610 209,644.2 209.1,590.6 209.2,619 209.3,611.3 209.3,620.9 209.4,602.7 209.5,602.1 209.6,586 209.7,585.6 209.7,582 209.8,611.3 209.9,603.2 210,585.6 210.1,601.3 210.1,630.1 210.2,626.6 210.3,622.9 210.4,629.5 210.5,621.1 210.6,615.4 210.6,625.5 210.7,610.5 210.8,592.4 210.9,617.8 211,597.5 211,600.1 211.1,613.5 211.2,603.6 211.3,602.1 211.4,617.4 211.4,620 211.5,609.1 211.6,605 211.7,630.3 211.8,588.2 211.8,622.9 211.9,610.5 212,609 212.1,643.8 212.2,571.9 212.3,584.8 212.3,590.1 212.4,585.5 212.5,577.5 212.6,578.3 212.7,581.5 212.7,566.9 212.8,572.1 212.9,577.3 213,577 213.1,576.5 213.1,595.3 213.2,608 213.3,600.6 213.4,598 213.5,573.4 213.6,588.8 213.6,591.6 213.7,593.6 213.8,593.9 213.9,613.4 214,620.1 214,617.6 214.1,601.5 214.2,617.2 214.3,625.8 214.4,591.9 214.4,606.3 214.5,603.7 214.6,591.1 214.7,594.2 214.8,570.4 214.9,576.9 214.9,557.9 215,604.7 215.1,620.6 215.2,599.2 215.3,603.3 215.3,644 215.4,615.6 215.5,575.8 215.6,601.5 215.7,598.3 215.7,582.6 215.8,583.2 215.9,581.9 216,607.7 216.1,598.3 216.2,612.8 216.2,605.3 216.3,619.4 216.4,583.2 216.5,591.8 216.6,619.2 216.6,619 216.7,614.4 216.8,587.2 216.9,622.4 217,615.8 217,613.7 217.1,642.5 217.2,633.4 217.3,646.6 217.4,600.6 217.4,628.6 217.5,623.1 217.6,645.8 217.7,603.2 217.8,603.3 217.9,624.8 217.9,637.8 218,612.2 218.1,590.4 218.2,614.6 218.3,583.4 218.3,607.8 218.4,601.2 218.5,621.9 218.6,607.7 218.7,621.7 218.7,597.4 218.8,623.7 218.9,627.1 219,612.1 219.1,617.3 219.2,629.6 219.2,608.9 219.3,630.9 219.4,610.5 219.5,592.7 219.6,595.9 219.6,586.6 219.7,602.5 219.8,614.3 219.9,609.7 220,611.9 220,613 220.1,605.8 220.2,607 220.3,580.8 220.4,600.5 220.5,622.1 220.5,624.9 220.6,592.5 220.7,627.2 220.8,645.4 220.9,623.6 220.9,617.1 221,634 221.1,635.9 221.2,630.9 221.3,616.5 221.3,611 221.4,625.7 221.5,593.1 221.6,615.6 221.7,597 221.8,620.1 221.8,614 221.9,629.5 222,640.1 222.1,625.6 222.2,599.5 222.2,645.2 222.3,612.9 222.4,622.9 222.5,595.9 222.6,606.2 222.6,615.9 222.7,626 222.8,621 222.9,644.7 223,594.6 223,610.9 223.1,599.6 223.2,634.8 223.3,615 223.4,601.3 223.5,587.4 223.5,598.9 223.6,598.6 223.7,608.1 223.8,597.6 223.9,626.1 223.9,622.6 224,608.1 224.1,621.8 224.2,619.4 224.3,608.4 224.3,609.6 224.4,606.2 224.5,587.7 224.6,625.6 224.7,606.1 224.8,582.7 224.8,585.2 224.9,602.8 225,625.5 225.1,619.1 225.2,626.2 225.2,640.7 225.3,623.3 225.4,626.4 225.5,623.4 225.6,626.9 225.6,614 225.7,632.7 225.8,627.7 225.9,624.1 226,619.1 226.1,588.7 226.1,597.1 226.2,596.6 226.3,610.2 226.4,598.4 226.5,615.5 226.5,616.6 226.6,575.4 226.7,597.4 226.8,608.4 226.9,600 226.9,580.1 227,574.9 227.1,591.1 227.2,605 227.3,593.1 227.4,593.5 227.4,573.7 227.5,580.2 227.6,572.2 227.7,589.1 227.8,577.1 227.8,579.8 227.9,606 228,629.5 228.1,588.5 228.2,583.3 228.2,589.8 228.3,585.5 228.4,583.2 228.5,608.3 228.6,579 228.6,583.6 228.7,596.6 228.8,579.8 228.9,598.5 229,592.6 229.1,584.2 229.1,603.5 229.2,606.9 229.3,613.4 229.4,607.9 229.5,619.4 229.5,618.3 229.6,624.6 229.7,574.7 229.8,633.5 229.9,626.5 229.9,622.5 230,605.5 230.1,589.8 230.2,620.7 230.3,591.8 230.4,584.9 230.4,577.7 230.5,596 230.6,580 230.7,573.8 230.8,569.6 230.8,595.3 230.9,559 231,598.2 231.1,628.2 231.2,612.3 231.2,635 231.3,635.7 231.4,633.6 231.5,631.3 231.6,618.2 231.7,634.9 231.7,613.8 231.8,617.9 231.9,619.4 232,583.8 232.1,583.6 232.1,592.1 232.2,572.9 232.3,600.9 232.4,608 232.5,586.5 232.5,583.5 232.6,600.7 232.7,596.7 232.8,617.3 232.9,605 233,622.3 233,608 233.1,596.8 233.2,610.7 233.3,600.2 233.4,615.8 233.4,601.9 233.5,640.9 233.6,616.8 233.7,623.1 233.8,625.5 233.8,608.3 233.9,636.9 234,622.1 234.1,591.4 234.2,622.5 234.2,592.2 234.3,586.3 234.4,587.6 234.5,625.7 234.6,589.5 234.7,620.7 234.7,622.8 234.8,625.2 234.9,628.9 235,597.4 235.1,607.9 235.1,615.9 235.2,644.5 235.3,613.3 235.4,628.4 235.5,632.8 235.5,638 235.6,678.8 235.7,630.8 235.8,621.3 235.9,625.8 236,648.8 236,630.8 236.1,632.8 236.2,601.8 236.3,624.5 236.4,611.3 236.4,620.7 236.5,622.9 236.6,642 236.7,641.5 236.8,638.3 236.8,646.2 236.9,639.2 237,629.7 237.1,621 237.2,633.4 237.3,610.5 237.3,628.3 237.4,589.6 237.5,597.1 237.6,594.4 237.7,595.9 237.7,606.6 237.8,592 237.9,601.7 238,605.7 238.1,596.7 238.1,625 238.2,639.5 238.3,622.2 238.4,615.7 238.5,619.3 238.6,617.4 238.6,623 238.7,642.8 238.8,613.3 238.9,622.7 239,622.5 239,638.8 239.1,630.5 239.2,603.7 239.3,627 239.4,617.5 239.4,632.1 239.5,616.5 239.6,612.3 239.7,597.5 239.8,590.1 239.8,592.7 239.9,620.2 240,579.6 240.1,580.6 240.2,584.4 240.3,608.5 240.3,610.4 240.4,633.5 240.5,626.5 240.6,610.5 240.7,623.3 240.7,638.7 240.8,598 240.9,588.3 241,585.4 241.1,601.7 241.1,602.3 241.2,592.1 241.3,608.2 241.4,614 241.5,634 241.6,625 241.6,613.3 241.7,602.4 241.8,585.6 241.9,613.9 242,609.4 242,629.4 242.1,616 242.2,614.4 242.3,639.8 242.4,623.4 242.4,623.7 242.5,626.4 242.6,630.5 242.7,645.5 242.8,594.2 242.9,630.3 242.9,616.3 243,612 243.1,618.9 243.2,621.1 243.3,589.7 243.3,601.8 243.4,591.8 243.5,608.2 243.6,601.6 243.7,614.6 243.7,636.8 243.8,620.3 243.9,617.9 244,566.8 244.1,584.4 244.2,593.8 244.2,645.7 244.3,608.4 244.4,647.1 244.5,625.8 244.6,630.6 244.6,614.2 244.7,613.2 244.8,629.3 244.9,613.4 245,643.9 245,604.9 245.1,625.5 245.2,644.2 245.3,607.9 245.4,646.4 245.4,619.9 245.5,587 245.6,611.1 245.7,607.4 245.8,626.6 245.9,611.4 245.9,624.2 246,620 246.1,595.3 246.2,631.2 246.3,636.8 246.3,633.4 246.4,628.7 246.5,605.4 246.6,640.5 246.7,616.3 246.7,632.6 246.8,644.4 246.9,589.2 247,601.3 247.1,622.5 247.2,615.1 247.2,617.7 247.3,651.5 247.4,617.3 247.5,595.7 247.6,613.8 247.6,644.1 247.7,635 247.8,634.1 247.9,633.3 248,627.3 248,605.5 248.1,621.1 248.2,611 248.3,603.3 248.4,593.8 248.5,618.8 248.5,586 248.6,600.2 248.7,566.7 248.8,643.2 248.9,639.9 248.9,620.6 249,605.3 249.1,627.9 249.2,638.9 249.3,617.3 249.3,611.4 249.4,634.4 249.5,580.4 249.6,628.6 249.7,631.9 249.8,586.4 249.8,608.9 249.9,649 250,624.1 250.1,614 250.2,639.4 250.2,628.4 250.3,646.7 250.4,650.3 250.5,624.9 250.6,623.6 250.6,629.6 250.7,633.3 250.8,605.7 250.9,610.6 251,619.2 251,625.2 251.1,596.4 251.2,630.2 251.3,693.5 251.4,692.9 251.5,693.5 251.5,695 251.6,695.3 251.7,694.7 251.8,695.3 251.9,689.3 251.9,691.8 252,695.6 252.1,691.1 252.2,694.5 252.3,687.3 252.3,685.9 252.4,689.7 252.5,698.8 252.6,699.3 252.7,693.6 252.8,690 252.8,691.1 252.9,700.2 253,693.9 253.1,693 253.2,703.3 253.2,687.2 253.3,687.9 253.4,687.2 253.5,689 253.6,685.8 253.6,699.2 253.7,698.2 253.8,694.1 253.9,700.5 254,699.7 254.1,697.4 254.1,685.9 254.2,695 254.3,683.6 254.4,699.4 254.5,692.9 254.5,695.4 254.6,698.3 254.7,690.1 254.8,692.3 254.9,685 254.9,687.4 255,687.2 255.1,690.9 255.2,695.4 255.3,699 255.4,692.1 255.4,700.1 255.5,697.4 255.6,695.3 255.7,693.4 255.8,693.6 255.8,692.9 255.9,695.4 256,695.4 256.1,696.8 256.2,692 256.2,691.3 256.3,695.2 256.4,693.2 256.5,693.9 256.6,693.4 256.6,697.1 256.7,702.5 256.8,696.6 256.9,696.1 257,696.6 257.1,696 257.1,700 257.2,692.3 257.3,702.2 257.4,689.2 257.5,698.4 257.5,701.9 257.6,700.7 257.7,692.2 257.8,691.4 257.9,690.2 257.9,692 258,693.7 258.1,700.9 258.2,696 258.3,696.5 258.4,700.7 258.4,700 258.5,697.2 258.6,696.5 258.7,699.3 258.8,698.6 258.8,697.9 258.9,697.3 259,692.6 259.1,697.9 259.2,696.7 259.2,692.3 259.3,695.1 259.4,689.8 259.5,697.5 259.6,701 259.7,694.5 259.7,701 259.8,692.9 259.9,690.9 260,692.5 260.1,696.4 260.1,697.2 260.2,700.2 260.3,690.9 260.4,691 260.5,696.7 260.5,697.9 260.6,698.8 260.7,691.5 260.8,702.7 260.9,691.9 261,694 261,700.8 261.1,696.1 261.2,699.7 261.3,697.3 261.4,696.1 261.4,695.1 261.5,693.6 261.6,693.5 261.7,691.6 261.8,692.1 261.8,697.5 261.9,689 262,687.9 262.1,693.1 262.2,690.6 262.2,698 262.3,691.4 262.4,692.7 262.5,685.9 262.6,691 262.7,691.7 262.7,687.2 262.8,689.1 262.9,688.9 263,691.5 263.1,686.7 263.1,691.4 263.2,685.2 263.3,695.5 263.4,697.3 263.5,694.7 263.5,699.4 263.6,701.1 263.7,694.8 263.8,701 263.9,696.6 264,694 264,688.9 264.1,700.6 264.2,697.5 264.3,695.2 264.4,703.4 264.4,701.6 264.5,704 264.6,693.4 264.7,691.5 264.8,699.7 264.8,699.4 264.9,693.8 265,701.4 265.1,702.3 265.2,696.8 265.3,694.9 265.3,698.5 265.4,698.4 265.5,701.7 265.6,694.1 265.7,696.3 265.7,699.1 265.8,689.8 265.9,688.7 266,687.4 266.1,693 266.1,695.6 266.2,695.6 266.3,693.7 266.4,691.8 266.5,694.2 266.6,696.1 266.6,685.8 266.7,688.1 266.8,692.2 266.9,690 267,693 267,691.9 267.1,697.1 267.2,687.7 267.3,687.4 267.4,685.1 267.4,689 267.5,689.4 267.6,687.8 267.7,687.9 267.8,688.5 267.8,694.2 267.9,699.2 268,696.4 268.1,699.6 268.2,695.8 268.3,698.9 268.3,697.7 268.4,695.9 268.5,696.5 268.6,690.1 268.7,701.5 268.7,694.7 268.8,689.1 268.9,702.6 269,699.9 269.1,693.8 269.1,703.4 269.2,690.1 269.3,694.3 269.4,690 269.5,690.9 269.6,687.8 269.6,686.7 269.7,684.6 269.8,694.2 269.9,691.5 270,689.8 270,687.8 270.1,694 270.2,687.7 270.3,683.6 270.4,687.8 270.4,684.1 270.5,687.8 270.6,684.6 270.7,691.8 270.8,688.7 270.9,695.4 270.9,704.5 271,699.8 271.1,695.1 271.2,692.6 271.3,699.2 271.3,697.5 271.4,695.7 271.5,687.9 271.6,694.4 271.7,687.5 271.7,696.9 271.8,700.2 271.9,689.5 272,697.6 272.1,691.6 272.2,703.2 272.2,699 272.3,687.6 272.4,701.1 272.5,687.4 272.6,689.9 272.6,684.1 272.7,694.7 272.8,685.4 272.9,684.9 273,690.1 273,692.1 273.1,685.1 273.2,686.3 273.3,689.9 273.4,692.1 273.4,691.1 273.5,693.3 273.6,692 273.7,688.9 273.8,692.1 273.9,701.4 273.9,692.1 274,701.2 274.1,700.3 274.2,694.2 274.3,692.5 274.3,690.3 274.4,690.6 274.5,688.1 274.6,694.5 274.7,697.9 274.7,700.7 274.8,690.6 274.9,688 275,695.2 275.1,697.2 275.2,694 275.2,694.2 275.3,691 275.4,697.1 275.5,686.4 275.6,698.9 275.6,704.8 275.7,688.2 275.8,691.8 275.9,687.1 276,686.5 276,688.7 276.1,696.1 276.2,691 276.3,684.5 276.4,693.3 276.5,691.5 276.5,699.5 276.6,683.4 276.7,695.7 276.8,702.6 276.9,698.3 276.9,703.9 277,702.3 277.1,698 277.2,696.7 277.3,700.2 277.3,699 277.4,697.6 277.5,700.5 277.6,699.2 277.7,701 277.8,704.5 277.8,698.3 277.9,703.9 278,701.7 278.1,703.6 278.2,702.5 278.2,701.9 278.3,703.6 278.4,700.1 278.5,694.7 278.6,690.7 278.6,697.1 278.7,693.2 278.8,693.4 278.9,704.2 279,697.1 279,689.5 279.1,698.3 279.2,701.5 279.3,701.7 279.4,700.5 279.5,699.3 279.5,699.5 279.6,698.8 279.7,701.6 279.8,701.1 279.9,695.1 279.9,695.3 280,699 280.1,691.7 280.2,697 280.3,697.4 280.3,699.8 280.4,702.3 280.5,701.4 280.6,698.1 280.7,692.3 280.8,686.4 280.8,695.6 280.9,700.5 281,702.1 281.1,701.4 281.2,700.8 281.2,693.6 281.3,689.2 281.4,691.5 281.5,683.3 281.6,684.9 281.6,685.9 281.7,689.5 281.8,689 281.9,688.9 282,692.5 282.1,690.3 282.1,693 282.2,696.8 282.3,690.6 282.4,689.8 282.5,685.4 282.5,696.1 282.6,687.8 282.7,693.5 282.8,693 282.9,693.1 282.9,692.3 283,697.8 283.1,685.8 283.2,690.4 283.3,695.4 283.4,699.6 283.4,691.4 283.5,701.6 283.6,689.6 283.7,699 283.8,699.4 283.8,701.3 283.9,699.9 284,700.9 284.1,696.7 284.2,700.9 284.2,701.4 284.3,698.6 284.4,699.6 284.5,697.7 284.6,698 284.6,691.4 284.7,693.5 284.8,698.9 284.9,690.7 285,696.3 285.1,694 285.1,695.7 285.2,692.5 285.3,689.9 285.4,696.9 285.5,696.1 285.5,684.4 285.6,690.5 285.7,698.6 285.8,689.5 285.9,690.9 285.9,693.4 286,687.9 286.1,692.8 286.2,695.4 286.3,691.8 286.4,687.5 286.4,696.7 286.5,699.6 286.6,691.8 286.7,688.3 286.8,689.9 286.8,692.7 286.9,690.9 287,691.8 287.1,699 287.2,696.3 287.2,687.9 287.3,685.8 287.4,685 287.5,688.8 287.6,694.9 287.7,688.2 287.7,689.9 287.8,690.1 287.9,694.2 288,693.3 288.1,697.8 288.1,698 288.2,696.1 288.3,698.5 288.4,691.5 288.5,694.2 288.5,695.1 288.6,687.5 288.7,697.1 288.8,694.7 288.9,700.2 289,692.7 289,698.3 289.1,686.1 289.2,688.1 289.3,685.3 289.4,691 289.4,695.6 289.5,690 289.6,690.8 289.7,698.1 289.8,701.2 289.8,695.4 289.9,701.8 290,690.7 290.1,699.3 290.2,697.8 290.2,694.5 290.3,693.3 290.4,698.8 290.5,698.9 290.6,696.8 290.7,696.9 290.7,688.5 290.8,694.3 290.9,693.7 291,692.3 291.1,694.2 291.1,694.4 291.2,685.3 291.3,691.9 291.4,696.8 291.5,700.6 291.5,692.3 291.6,701.5 291.7,700.2 291.8,699.3 291.9,695.5 292,694.9 292,695.2 292.1,686.8 292.2,688.3 292.3,688.3 292.4,693.7 292.4,694 292.5,688 292.6,693.6 292.7,690.9 292.8,687.9 292.8,687 292.9,688.5 293,692.4 293.1,694.3 293.2,685 293.3,691.3 293.3,691.5 293.4,690.7 293.5,696.1 293.6,691.5 293.7,691.2 293.7,690.6 293.8,688.5 293.9,692.3 294,695.1 294.1,693 294.1,698.3 294.2,691.7 294.3,691.9 294.4,685.8 294.5,691.7 294.6,691.4 294.6,695.5 294.7,689.2 294.8,690.7 294.9,691.5 295,692.9 295,687.4 295.1,687 295.2,692 295.3,689.6 295.4,689.9 295.4,688 295.5,691.4 295.6,687.9 295.7,687.4 295.8,693.7 295.8,689.1 295.9,691.7 296,668.6 296.1,694.2 296.2,694.4 296.3,696.3 296.3,699.5 296.4,697.6 296.5,700.1 296.6,696.2 296.7,696.1 296.7,699 296.8,702.2 296.9,688.6 297,696.3 297.1,703 297.1,703.5 297.2,702.8 297.3,698.4 297.4,700.4 297.5,701.6 297.6,701 297.6,697.8 297.7,692.8 297.8,701.1 297.9,697.1 298,691.1 298,697.8 298.1,690.4 298.2,691.2 298.3,689 298.4,695.4 298.4,693.8 298.5,699.9 298.6,704.6 298.7,704.7 298.8,696.6 298.9,696.1 298.9,690.1 299,703.5 299.1,687.6 299.2,689.6 299.3,685.5 299.3,685.5 299.4,689.5 299.5,689.3 299.6,691.6 299.7,684.2 299.7,687.3 299.8,694.9 299.9,687.4 300,690.4 300.1,694.2 300.2,692.7 300.2,692.7 300.3,686.9 300.4,688.3 300.5,685.9 300.6,685.4 300.6,684.8 300.7,686.3 300.8,684.6 300.9,685.4 301,685.8 301,687.1 301.1,689.8 301.2,693.2 301.3,689.3 301.4,699.7 301.4,687.7 301.5,695.5 301.6,700.9 301.7,699.7 301.8,696.2 301.9,695.4 301.9,701.3 302,704.5 302.1,700.1 302.2,697.5 302.3,697.6 302.3,703.3 302.4,703.6 302.5,700.7 302.6,700.6 302.7,700.7 302.7,705.5 302.8,696.9 302.9,704.2 303,696 303.1,698.3 303.2,695 303.2,699.6 303.3,699.6 303.4,689.9 303.5,693.3 303.6,688.8 303.6,697.4 303.7,691.6 303.8,691.2 303.9,689.8 304,690.5 304,686.6 304.1,687.2 304.2,686.9 304.3,689.2 304.4,686.7 304.5,685.5 304.5,687.9 304.6,686.9 304.7,691.8 304.8,693.1 304.9,693.6 304.9,692.5 305,689.4 305.1,689.1 305.2,694.6 305.3,692 305.3,687.1 305.4,688.4 305.5,694.3 305.6,691.5 305.7,696 305.8,700.6 305.8,697 305.9,690 306,688.3 306.1,689.9 306.2,691.4 306.2,691.6 306.3,697.6 306.4,696.5"/>
<rect x="307" y="528.7" width="4" height="10.8" fill="#ff2410" stroke="#2e0614" stroke-width="1.45"/><rect x="307" y="541.4" width="7.5" height="10.8" fill="#ff2410" stroke="#2e0614" stroke-width="1.45"/><rect x="307" y="554.1" width="13.7" height="10.8" fill="#ff2410" stroke="#2e0614" stroke-width="1.45"/><rect x="307" y="566.8" width="26.5" height="10.8" fill="#ff2410" stroke="#2e0614" stroke-width="1.45"/><rect x="307" y="579.5" width="63.5" height="10.8" fill="#ff2410" stroke="#2e0614" stroke-width="1.45"/><rect x="307" y="592.3" width="91.7" height="10.8" fill="#ff2410" stroke="#2e0614" stroke-width="1.45"/><rect x="307" y="605" width="109" height="10.8" fill="#ff2410" stroke="#2e0614" stroke-width="1.45"/><rect x="307" y="617.7" width="79.7" height="10.8" fill="#ff2410" stroke="#2e0614" stroke-width="1.45"/><rect x="307" y="630.4" width="31" height="10.8" fill="#ff2410" stroke="#2e0614" stroke-width="1.45"/><rect x="307" y="643.1" width="7.5" height="10.8" fill="#ff2410" stroke="#2e0614" stroke-width="1.45"/><rect x="307" y="655.8" width="2" height="10.8" fill="#ff2410" stroke="#2e0614" stroke-width="1.45"/><rect x="307" y="668.5" width="19" height="10.8" fill="#ff2410" stroke="#2e0614" stroke-width="1.45"/><rect x="307" y="681.2" width="133.6" height="10.8" fill="#ff2410" stroke="#2e0614" stroke-width="1.45"/><rect x="307" y="693.9" width="15" height="10.8" fill="#ff2410" stroke="#2e0614" stroke-width="1.45"/>
<polyline points="308.3,706 308.7,705.4 309.2,704.9 309.8,704.4 310.5,703.9 311.3,703.4 312.4,702.9 313.6,702.4 315.1,701.9 316.8,701.4 318.9,700.9 321.2,700.4 323.9,699.9 327,699.3 330.5,698.8 334.3,698.3 338.6,697.8 343.3,697.3 348.4,696.8 354,696.3 359.8,695.8 366.1,695.3 372.5,694.8 379.2,694.3 386.1,693.8 392.9,693.2 399.7,692.7 406.4,692.2 412.8,691.7 418.9,691.2 424.4,690.7 429.4,690.2 433.8,689.7 437.3,689.2 440.1,688.7 442,688.2 442.9,687.7 442.9,687.1 442,686.6 440.1,686.1 437.4,685.6 433.8,685.1 429.5,684.6 424.5,684.1 418.9,683.6 412.9,683.1 406.5,682.6 399.8,682.1 393,681.6 386.1,681 379.3,680.5 372.6,680 366.1,679.5 359.9,679 354,678.5 348.5,678 343.4,677.5 338.7,677 334.4,676.5 330.6,676 327.1,675.5 324.1,675 321.4,674.4 319.1,673.9 317.1,673.4 315.4,672.9 313.9,672.4 312.7,671.9 311.7,671.4 310.8,670.9 310.2,670.4 309.6,669.9 309.2,669.4 308.8,668.9 308.6,668.3 308.4,667.8 308.3,667.3" fill="none" stroke="#000" stroke-width="2.1" stroke-dasharray="2.1 3.5"/><polyline points="308.2,663.8 308.3,663.3 308.4,662.8 308.5,662.2 308.6,661.7 308.8,661.2 308.9,660.7 309,660.2 309.2,659.7 309.4,659.2 309.5,658.7 309.7,658.2 309.9,657.7 310.1,657.2 310.4,656.7 310.6,656.1 310.9,655.6 311.2,655.1 311.4,654.6 311.8,654.1 312.1,653.6 312.4,653.1 312.8,652.6 313.2,652.1 313.6,651.6 314,651.1 314.5,650.6 314.9,650 315.4,649.5 316,649 316.5,648.5 317.1,648 317.7,647.5 318.3,647 319,646.5 319.6,646 320.4,645.5 321.1,645 321.9,644.5 322.7,644 323.5,643.4 324.4,642.9 325.3,642.4 326.3,641.9 327.2,641.4 328.3,640.9 329.3,640.4 330.4,639.9 331.5,639.4 332.6,638.9 333.8,638.4 335,637.9 336.3,637.3 337.6,636.8 338.9,636.3 340.3,635.8 341.6,635.3 343.1,634.8 344.5,634.3 346,633.8 347.5,633.3 349.1,632.8 350.6,632.3 352.2,631.8 353.8,631.2 355.5,630.7 357.2,630.2 358.8,629.7 360.5,629.2 362.3,628.7 364,628.2 365.7,627.7 367.5,627.2 369.3,626.7 371.1,626.2 372.8,625.7 374.6,625.1 376.4,624.6 378.2,624.1 379.9,623.6 381.7,623.1 383.4,622.6 385.2,622.1 386.9,621.6 388.6,621.1 390.2,620.6 391.9,620.1 393.5,619.6 395.1,619 396.6,618.5 398.1,618 399.6,617.5 401,617 402.4,616.5 403.7,616 405,615.5 406.3,615 407.4,614.5 408.5,614 409.6,613.5 410.6,613 411.5,612.4 412.4,611.9 413.2,611.4 413.9,610.9 414.5,610.4 415.1,609.9 415.6,609.4 416,608.9 416.4,608.4 416.6,607.9 416.8,607.4 417,606.9 417,606.3 417,605.8 416.8,605.3 416.6,604.8 416.4,604.3 416,603.8 415.6,603.3 415.1,602.8 414.5,602.3 413.9,601.8 413.2,601.3 412.4,600.8 411.5,600.2 410.6,599.7 409.6,599.2 408.5,598.7 407.4,598.2 406.3,597.7 405,597.2 403.7,596.7 402.4,596.2 401,595.7 399.6,595.2 398.1,594.7 396.6,594.1 395.1,593.6 393.5,593.1 391.9,592.6 390.2,592.1 388.6,591.6 386.9,591.1 385.2,590.6 383.4,590.1 381.7,589.6 379.9,589.1 378.2,588.6 376.4,588 374.6,587.5 372.8,587 371.1,586.5 369.3,586 367.5,585.5 365.7,585 364,584.5 362.3,584 360.5,583.5 358.8,583 357.2,582.5 355.5,581.9 353.8,581.4 352.2,580.9 350.6,580.4 349.1,579.9 347.5,579.4 346,578.9 344.5,578.4 343.1,577.9 341.6,577.4 340.3,576.9 338.9,576.4 337.6,575.9 336.3,575.3 335,574.8 333.8,574.3 332.6,573.8 331.5,573.3 330.4,572.8 329.3,572.3 328.3,571.8 327.2,571.3 326.3,570.8 325.3,570.3 324.4,569.8 323.5,569.2 322.7,568.7 321.9,568.2 321.1,567.7 320.4,567.2 319.6,566.7 319,566.2 318.3,565.7 317.7,565.2 317.1,564.7 316.5,564.2 316,563.7 315.4,563.1 314.9,562.6 314.5,562.1 314,561.6 313.6,561.1 313.2,560.6 312.8,560.1 312.4,559.6 312.1,559.1 311.8,558.6 311.4,558.1 311.2,557.6 310.9,557 310.6,556.5 310.4,556 310.1,555.5 309.9,555 309.7,554.5 309.5,554 309.4,553.5 309.2,553 309,552.5 308.9,552 308.7,551.5 308.6,550.9 308.5,550.4 308.4,549.9 308.3,549.4" fill="none" stroke="#000" stroke-width="2.1" stroke-dasharray="2.1 3.5"/>
<rect x="103.5" y="470.4" width="347.1" height="254.1" fill="none" stroke="#000" stroke-width="3"/><line x1="306.4" y1="470.4" x2="306.4" y2="724.5" stroke="#000" stroke-width="3"/><line x1="99.1" y1="724.5" x2="103.5" y2="724.5" stroke="#000" stroke-width="2.6"/><text class="t n" x="95.9" y="733.4" text-anchor="end">0</text><line x1="99.1" y1="661" x2="103.5" y2="661" stroke="#000" stroke-width="2.6"/><text class="t n" x="95.9" y="669.9" text-anchor="end">500</text><line x1="99.1" y1="597.5" x2="103.5" y2="597.5" stroke="#000" stroke-width="2.6"/><text class="t n" x="95.9" y="606.4" text-anchor="end">1000</text><line x1="99.1" y1="533.9" x2="103.5" y2="533.9" stroke="#000" stroke-width="2.6"/><text class="t n" x="95.9" y="542.8" text-anchor="end">1500</text><line x1="99.1" y1="470.4" x2="103.5" y2="470.4" stroke="#000" stroke-width="2.6"/><text class="t n" x="95.9" y="479.3" text-anchor="end">2000</text><line x1="103.5" y1="724.5" x2="103.5" y2="728" stroke="#000" stroke-width="2.6"/><text class="t n" x="103.2" y="752.1" text-anchor="middle">0</text><line x1="184.7" y1="724.5" x2="184.7" y2="728" stroke="#000" stroke-width="2.6"/><line x1="184.7" y1="470.4" x2="184.7" y2="473.8" stroke="#000" stroke-width="2.6"/><text class="t n" x="184.4" y="752.1" text-anchor="middle">1000</text><line x1="265.8" y1="724.5" x2="265.8" y2="728" stroke="#000" stroke-width="2.6"/><line x1="265.8" y1="470.4" x2="265.8" y2="473.8" stroke="#000" stroke-width="2.6"/><text class="t n" x="265.5" y="752.1" text-anchor="middle">2000</text><line x1="306.4" y1="724.5" x2="306.4" y2="728" stroke="#000" stroke-width="2.6"/><text class="t r n" x="306.2" y="752.1" text-anchor="middle">0</text><line x1="378.5" y1="724.5" x2="378.5" y2="728" stroke="#000" stroke-width="2.6"/><line x1="378.5" y1="470.4" x2="378.5" y2="473.8" stroke="#000" stroke-width="2.6"/><text class="t r n" x="378.3" y="752.1" text-anchor="middle">300</text><line x1="450.6" y1="724.5" x2="450.6" y2="728" stroke="#000" stroke-width="2.6"/><text class="t r n" x="450.4" y="752.1" text-anchor="middle">600</text><text class="t" x="209.1" y="794.6" text-anchor="middle">Frames</text><text class="t r" x="383.1" y="794.6" text-anchor="middle">Frequency</text><text class="t" transform="translate(21,795.3) rotate(-90)" style="letter-spacing:-0.3px">Fluorescence</text><text class="t" transform="translate(21,614.2) rotate(-90)" style="letter-spacing:0.5px">intensity</text><text class="t" transform="translate(21,494.5) rotate(-90)" style="letter-spacing:0px">/</text><text class="t" transform="translate(21,475.2) rotate(-90)" style="letter-spacing:-1.2px">a.u.</text>
</g>
<g id="B2">
<polyline class="tr" points="597.6,470.4 597.7,497.3 597.9,473.6 598,476.5 598.1,497.7 598.3,492.3 598.4,498.4 598.6,498.9 598.7,520.8 598.8,516.8 599,514.2 599.1,527.1 599.2,530.8 599.4,521 599.5,521 599.6,509 599.8,523.8 599.9,507.8 600,527.3 600.2,529.9 600.3,543 600.5,556.2 600.6,552.3 600.7,529.9 600.9,545.8 601,521.4 601.1,554.6 601.3,539.9 601.4,528 601.5,576.2 601.7,552.4 601.8,543.8 601.9,554.3 602.1,546.7 602.2,569.1 602.4,565.3 602.5,575.3 602.6,552.4 602.8,569.5 602.9,555.8 603,538.3 603.2,560.6 603.3,545 603.4,569.1 603.6,540.7 603.7,559.1 603.9,525.3 604,566.7 604.1,545.6 604.3,578 604.4,566.8 604.5,541.5 604.7,569.6 604.8,519.4 604.9,559 605.1,529.9 605.2,546.9 605.3,520.4 605.5,550.8 605.6,546.3 605.8,551 605.9,523.7 606,519 606.2,532 606.3,562.8 606.4,541.8 606.6,524.2 606.7,555.7 606.8,558.7 607,548.6 607.1,545.3 607.3,546.4 607.4,563.8 607.5,577.7 607.7,543.5 607.8,558.5 607.9,566 608.1,547 608.2,556 608.3,513.4 608.5,549 608.6,584 608.7,562 608.9,532.2 609,517.2 609.2,569.2 609.3,575.2 609.4,534.8 609.6,534.2 609.7,525.8 609.8,556.9 610,538.2 610.1,548.1 610.2,535 610.4,518.2 610.5,536.6 610.6,547.6 610.8,543.1 610.9,533.3 611.1,553.6 611.2,530.3 611.3,544.2 611.5,554.7 611.6,534.6 611.7,527.5 611.9,548.4 612,529 612.1,543.1 612.3,539.5 612.4,518.5 612.6,535.1 612.7,539.5 612.8,529.2 613,509.4 613.1,543.4 613.2,551.5 613.4,571.7 613.5,532.3 613.6,524.3 613.8,550.9 613.9,527.3 614,541 614.2,540.7 614.3,567.3 614.5,545.3 614.6,564.6 614.7,561.5 614.9,549.5 615,540.2 615.1,550.4 615.3,567.3 615.4,528.8 615.5,549.8 615.7,555 615.8,530 616,531.7 616.1,518.8 616.2,553.8 616.4,515.6 616.5,528.6 616.6,554.5 616.8,526.7 616.9,547.8 617,548 617.2,561.2 617.3,538.7 617.4,539.9 617.6,545.6 617.7,514.7 617.9,498.2 618,514.2 618.1,507.4 618.3,522.9 618.4,499.3 618.5,493.7 618.7,537.4 618.8,511 618.9,514.1 619.1,541.2 619.2,519.6 619.3,522.7 619.5,503 619.6,511.6 619.8,515.1 619.9,519.5 620,508.2 620.2,506.6 620.3,520.2 620.4,508.7 620.6,498.9 620.7,484.5 620.8,496 621,486.2 621.1,485 621.3,472.8 621.4,499.5 621.5,470.4 621.7,481.1 621.8,470.4 621.9,481.3 622.1,478.6 622.2,470.4 622.3,470.4 622.5,476 622.6,483 622.7,470.4 622.9,480.3 623,470.5 623.2,470.4 623.3,470.4 623.4,470.4 623.6,480.6 623.7,488.9 623.8,473 624,481.3 624.1,482.8 624.2,470.4 624.4,473.2 624.5,470.4 624.7,470.4 624.8,471.1 624.9,474 625.1,500.5 625.2,499.8 625.3,477.8 625.5,470.4 625.6,470.4 625.7,470.4 625.9,486.4 626,470.4 626.1,470.4 626.3,501.2 626.4,470.9 626.6,481.1 626.7,483.4 626.8,477 627,492.7 627.1,496.2 627.2,471.3 627.4,482.5 627.5,498.8 627.6,511.6 627.8,496.4 627.9,504.4 628,492.6 628.2,545 628.3,522 628.5,494.7 628.6,504 628.7,540.5 628.9,516.5 629,502.9 629.1,505.4 629.3,540.6 629.4,528.7 629.5,591.8 629.7,589.1 629.8,594.3 630,586.9 630.1,592.2 630.2,596.1 630.4,608.7 630.5,604.4 630.6,603.5 630.8,606.8 630.9,591.1 631,601 631.2,600.8 631.3,605.6 631.4,593.8 631.6,595.1 631.7,608.4 631.9,590.9 632,592.1 632.1,623.7 632.3,608.7 632.4,617.6 632.5,616.9 632.7,615.9 632.8,609.8 632.9,579.3 633.1,608.5 633.2,585.9 633.4,599.3 633.5,594.5 633.6,606.7 633.8,608.5 633.9,616.5 634,624.5 634.2,629.3 634.3,601.2 634.4,608.5 634.6,603.9 634.7,624.8 634.8,576.3 635,586.6 635.1,592.2 635.3,581.4 635.4,589.2 635.5,613.8 635.7,620.8 635.8,622.1 635.9,603.6 636.1,613.4 636.2,625.9 636.3,638 636.5,611.9 636.6,608 636.7,620.9 636.9,612 637,617.4 637.2,611 637.3,630.1 637.4,600.2 637.6,604.9 637.7,596.7 637.8,601.5 638,580.1 638.1,602.6 638.2,596.9 638.4,600.2 638.5,610.4 638.7,594.5 638.8,599.8 638.9,598.4 639.1,612.7 639.2,608.9 639.3,613.5 639.5,615.1 639.6,611.2 639.7,625.8 639.9,582.3 640,589.6 640.1,618.7 640.3,606.4 640.4,589 640.6,611.7 640.7,602.2 640.8,626.9 641,587.6 641.1,619.3 641.2,600.5 641.4,615.5 641.5,621.2 641.6,621.4 641.8,630.1 641.9,617.4 642.1,629.4 642.2,636.2 642.3,638.4 642.5,640.2 642.6,637 642.7,616.8 642.9,597.4 643,604.2 643.1,614.2 643.3,616.5 643.4,616.8 643.5,624.8 643.7,598.3 643.8,622.9 644,613.9 644.1,587.1 644.2,580 644.4,600.9 644.5,611.2 644.6,615.7 644.8,577.4 644.9,601.7 645,583.6 645.2,593.5 645.3,609.1 645.4,580.9 645.6,599.2 645.7,601.7 645.9,612.4 646,588.7 646.1,612.3 646.3,591.7 646.4,604.9 646.5,594.4 646.7,613 646.8,588.8 646.9,598.3 647.1,604.6 647.2,597.6 647.4,615.6 647.5,624.6 647.6,625.5 647.8,618.5 647.9,606.2 648,598.1 648.2,590 648.3,591.2 648.4,610 648.6,610.6 648.7,626.8 648.8,627.2 649,605.3 649.1,626 649.3,561.2 649.4,624.4 649.5,620.4 649.7,595.3 649.8,602.3 649.9,615.5 650.1,571.4 650.2,595.4 650.3,596 650.5,600.3 650.6,590 650.7,590 650.9,609.1 651,616.7 651.2,604.1 651.3,593.5 651.4,616.8 651.6,587.9 651.7,597.6 651.8,615.8 652,615.6 652.1,615.9 652.2,636 652.4,621.5 652.5,616.4 652.7,645 652.8,590.4 652.9,634 653.1,609 653.2,629.1 653.3,597.3 653.5,606.6 653.6,621.1 653.7,626.6 653.9,604.7 654,603.3 654.1,613.5 654.3,626.8 654.4,635.4 654.6,639.3 654.7,625 654.8,600.8 655,628.1 655.1,592 655.2,610.1 655.4,628.1 655.5,609.2 655.6,649.3 655.8,627.2 655.9,623.6 656.1,594.8 656.2,587.6 656.3,591.4 656.5,591.7 656.6,617 656.7,606.5 656.9,620.2 657,624.2 657.1,613.4 657.3,598.8 657.4,623.1 657.5,619.1 657.7,600.6 657.8,613 658,617.7 658.1,599.4 658.2,619.5 658.4,626.1 658.5,588.2 658.6,635.1 658.8,623.9 658.9,629.6 659,632.1 659.2,600.5 659.3,596.7 659.4,612.5 659.6,607.9 659.7,603.1 659.9,610.8 660,601.4 660.1,604.6 660.3,598.6 660.4,603.3 660.5,605.5 660.7,613 660.8,620.4 660.9,613.9 661.1,615.1 661.2,609.4 661.4,624.5 661.5,579.1 661.6,595.2 661.8,601.5 661.9,613.2 662,612.7 662.2,585.3 662.3,581 662.4,590 662.6,572.5 662.7,625.9 662.8,625.9 663,632.9 663.1,621.1 663.3,623.4 663.4,631.8 663.5,627 663.7,608.8 663.8,601.8 663.9,628.3 664.1,604 664.2,602.6 664.3,609.6 664.5,593.7 664.6,580 664.8,603 664.9,596.6 665,610 665.2,596.3 665.3,624.4 665.4,591.7 665.6,591.6 665.7,612 665.8,585.7 666,606.3 666.1,593.7 666.2,589.6 666.4,588.6 666.5,602 666.7,606 666.8,606.4 666.9,605 667.1,605.6 667.2,587.7 667.3,630.6 667.5,624.8 667.6,635.3 667.7,627.5 667.9,628 668,637.3 668.1,626.2 668.3,642 668.4,620.3 668.6,630.3 668.7,587.9 668.8,610.4 669,598.3 669.1,599.9 669.2,663.8 669.4,606.6 669.5,622.1 669.6,616.7 669.8,622.3 669.9,624.7 670.1,614.8 670.2,622.6 670.3,600.1 670.5,622.6 670.6,636.4 670.7,636.2 670.9,603.8 671,626.6 671.1,609.9 671.3,603.4 671.4,627.9 671.5,604.6 671.7,625.9 671.8,637.6 672,648.1 672.1,619.7 672.2,631.4 672.4,639.8 672.5,615.9 672.6,618.5 672.8,621 672.9,624.6 673,594.8 673.2,602.4 673.3,607.8 673.5,625.5 673.6,617.4 673.7,596.3 673.9,608.9 674,611.3 674.1,596.3 674.3,617.1 674.4,621.2 674.5,622.2 674.7,612 674.8,624.6 674.9,631.9 675.1,625.8 675.2,616.2 675.4,619.8 675.5,622 675.6,608.7 675.8,604.4 675.9,602.8 676,607.9 676.2,635.1 676.3,630.3 676.4,610.9 676.6,620.5 676.7,633.3 676.8,627.8 677,625.1 677.1,612.1 677.3,612.3 677.4,619.6 677.5,611 677.7,609 677.8,598.8 677.9,622.5 678.1,603.6 678.2,604.9 678.3,604.7 678.5,618.1 678.6,601.7 678.8,616.7 678.9,626.3 679,625 679.2,608.3 679.3,621.4 679.4,628 679.6,627.5 679.7,619.2 679.8,619.4 680,617.5 680.1,619.5 680.2,615.8 680.4,631.6 680.5,641.6 680.7,603.5 680.8,625.8 680.9,629.7 681.1,588.5 681.2,634.8 681.3,635.7 681.5,642.2 681.6,600.6 681.7,638.8 681.9,602.1 682,604 682.2,620.5 682.3,620.5 682.4,628.3 682.6,605.1 682.7,620.1 682.8,636 683,643 683.1,607.7 683.2,613.2 683.4,632.2 683.5,626.1 683.6,619.1 683.8,618.9 683.9,612.8 684.1,599.1 684.2,614.5 684.3,609.9 684.5,625.9 684.6,640.1 684.7,616.4 684.9,631.8 685,614.7 685.1,626.4 685.3,631.3 685.4,631.8 685.5,617 685.7,605.8 685.8,633.4 686,628.6 686.1,609.2 686.2,618.3 686.4,602.5 686.5,603.1 686.6,620.4 686.8,602.4 686.9,613.1 687,623.5 687.2,637.3 687.3,629.9 687.5,620.5 687.6,618.2 687.7,618.6 687.9,619.1 688,616.8 688.1,630.7 688.3,632.4 688.4,618.1 688.5,646.5 688.7,633.6 688.8,629 688.9,651.5 689.1,637.3 689.2,628.2 689.4,621 689.5,626.4 689.6,635.3 689.8,641.2 689.9,622 690,634.6 690.2,642.3 690.3,640.7 690.4,636.9 690.6,619.1 690.7,638.2 690.9,639.7 691,627.7 691.1,637.7 691.3,616.3 691.4,643.7 691.5,655.1 691.7,633.8 691.8,614.1 691.9,617.1 692.1,619 692.2,620.7 692.3,613.1 692.5,609.7 692.6,614 692.8,600.7 692.9,614.1 693,636.1 693.2,621.8 693.3,617.9 693.4,633.5 693.6,612.9 693.7,620.3 693.8,621.3 694,623.4 694.1,627 694.2,636.5 694.4,626.4 694.5,624.7 694.7,609.2 694.8,619 694.9,623.2 695.1,627.8 695.2,607.1 695.3,640 695.5,640.2 695.6,625.7 695.7,632.9 695.9,613.5 696,625.9 696.2,631.5 696.3,632.1 696.4,622.9 696.6,622.4 696.7,640.4 696.8,646.6 697,625.6 697.1,616.9 697.2,627 697.4,641.2 697.5,619.5 697.6,622.2 697.8,625 697.9,630.2 698.1,643.9 698.2,628.4 698.3,630.9 698.5,634.2 698.6,636.6 698.7,624 698.9,617.7 699,612 699.1,616.6 699.3,637.4 699.4,617.5 699.5,630 699.7,625.1 699.8,611.1 700,648.1 700.1,591.7 700.2,634 700.4,632.7 700.5,639.3 700.6,646.7 700.8,647.7 700.9,630.4 701,639.8 701.2,629.2 701.3,632.3 701.5,628.9 701.6,611.4 701.7,634 701.9,620.3 702,645.4 702.1,643.1 702.3,609.3 702.4,579.8 702.5,615.1 702.7,626.4 702.8,609.9 702.9,612.4 703.1,633.6 703.2,629.5 703.4,617.2 703.5,619.1 703.6,632.2 703.8,618.6 703.9,635.9 704,638.5 704.2,640 704.3,627.9 704.4,645 704.6,647.5 704.7,641.1 704.9,635.2 705,640.6 705.1,646.6 705.3,631 705.4,640.9 705.5,635 705.7,643.3 705.8,606.4 705.9,604 706.1,629.8 706.2,623.3 706.3,611.6 706.5,633.2 706.6,636.1 706.8,604.4 706.9,637.9 707,619.9 707.2,620.1 707.3,610.6 707.4,634.2 707.6,615.4 707.7,628.9 707.8,612.4 708,628 708.1,623 708.2,647.6 708.4,615 708.5,628.7 708.7,605.9 708.8,634.1 708.9,614.5 709.1,638.9 709.2,628 709.3,619.9 709.5,633.5 709.6,655.5 709.7,615.9 709.9,631.5 710,641.1 710.2,633.2 710.3,624.7 710.4,631.1 710.6,638.9 710.7,633.7 710.8,638.4 711,620.1 711.1,639 711.2,612.9 711.4,616.7 711.5,628.9 711.6,643.4 711.8,625.2 711.9,629.7 712.1,628.1 712.2,650.5 712.3,640.3 712.5,621.5 712.6,644.4 712.7,640.9 712.9,643.8 713,627.4 713.1,624.1 713.3,612.3 713.4,627.3 713.6,642 713.7,621 713.8,636.8 714,650.4 714.1,626.3 714.2,636.8 714.4,650.4 714.5,620 714.6,647.8 714.8,638.4 714.9,644.1 715,634.4 715.2,625.4 715.3,634.2 715.5,690.4 715.6,688.2 715.7,694.9 715.9,688.6 716,691.7 716.1,694.1 716.3,690.8 716.4,696.3 716.5,687.2 716.7,694 716.8,690.3 716.9,700 717.1,696.9 717.2,697 717.4,694.6 717.5,690.5 717.6,698 717.8,694.4 717.9,694.2 718,696 718.2,694.9 718.3,690 718.4,688.4 718.6,688.2 718.7,696.9 718.9,689.4 719,686.7 719.1,687.5 719.3,687.5 719.4,699.6 719.5,690.4 719.7,686.7 719.8,687.5 719.9,686.1 720.1,697.8 720.2,701 720.3,704.2 720.5,698.3 720.6,691.4 720.8,700.7 720.9,699 721,703.3 721.2,693.4 721.3,695.2 721.4,689.6 721.6,690.4 721.7,695.1 721.8,688.6 722,690 722.1,696.6 722.3,687.6 722.4,702.2 722.5,700.3 722.7,701.3 722.8,701.8 722.9,701.6 723.1,696.1 723.2,692.4 723.3,690.6 723.5,695.2 723.6,693.3 723.7,692.2 723.9,702.2 724,684.2 724.2,689.8 724.3,694.5 724.4,687.1 724.6,691.7 724.7,692.8 724.8,688.3 725,695.7 725.1,697.1 725.2,700.3 725.4,697.6 725.5,694.8 725.6,690.2 725.8,703.2 725.9,695.5 726.1,690.4 726.2,690.3 726.3,689.1 726.5,698.8 726.6,695.2 726.7,699.4 726.9,690.5 727,695.8 727.1,698.2 727.3,688.4 727.4,691.6 727.6,699.9 727.7,700.1 727.8,695.6 728,691.9 728.1,698.8 728.2,693.2 728.4,695.9 728.5,685.7 728.6,697.8 728.8,694 728.9,694.6 729,695.7 729.2,693.7 729.3,687.5 729.5,694.5 729.6,691.4 729.7,692.2 729.9,699.7 730,696.6 730.1,698.5 730.3,700 730.4,696.3 730.5,702.2 730.7,694.6 730.8,699.9 731,701.3 731.1,691.6 731.2,693.8 731.4,696.5 731.5,692.5 731.6,699.6 731.8,701.1 731.9,695.6 732,698.4 732.2,702 732.3,689.4 732.4,694.8 732.6,692.6 732.7,699 732.9,690.6 733,686.4 733.1,688.4 733.3,692.7 733.4,688.4 733.5,690.1 733.7,701.9 733.8,700.4 733.9,699.3 734.1,698 734.2,695.1 734.3,701.3 734.5,697 734.6,698.6 734.8,697.9 734.9,690.4 735,693.2 735.2,691 735.3,696.4 735.4,705.9 735.6,686.4 735.7,698.5 735.8,697.2 736,699.8 736.1,692.7 736.3,696.2 736.4,695.2 736.5,697 736.7,697.6 736.8,690.7 736.9,689.8 737.1,694.9 737.2,690.5 737.3,688.2 737.5,692.4 737.6,688.1 737.7,688.2 737.9,692.3 738,688.5 738.2,691.3 738.3,685.1 738.4,691.4 738.6,688.9 738.7,690 738.8,690.4 739,690.4 739.1,689.1 739.2,697.8 739.4,698.3 739.5,698.3 739.7,690.7 739.8,694.1 739.9,696.4 740.1,697.1 740.2,688.9 740.3,683.9 740.5,691.6 740.6,687.2 740.7,703.1 740.9,698.5 741,697.1 741.1,693.2 741.3,701 741.4,692.6 741.6,701.5 741.7,696.1 741.8,692.9 742,695.3 742.1,697 742.2,701.2 742.4,700.3 742.5,694.3 742.6,691.7 742.8,697.3 742.9,697.3 743,691.1 743.2,690.7 743.3,697.5 743.5,695.4 743.6,702.7 743.7,692.5 743.9,697.4 744,687.3 744.1,691 744.3,689.5 744.4,689 744.5,689.5 744.7,691.9 744.8,700.5 745,696.9 745.1,697.6 745.2,694.6 745.4,692.4 745.5,694.3 745.6,699.1 745.8,700.3 745.9,700.5 746,697.7 746.2,688.8 746.3,698.2 746.4,690.4 746.6,687.8 746.7,702 746.9,693.5 747,696.5 747.1,693.7 747.3,699.9 747.4,703.4 747.5,698.8 747.7,693.4 747.8,688.1 747.9,697.3 748.1,690.6 748.2,702.5 748.4,697.7 748.5,701.6 748.6,691.7 748.8,692.5 748.9,689.5 749,690 749.2,692.7 749.3,701.2 749.4,689.2 749.6,695.2 749.7,696.1 749.8,690.2 750,687.8 750.1,687.1 750.3,688.9 750.4,701 750.5,692.2 750.7,698.3 750.8,698.9 750.9,700.9 751.1,697.7 751.2,703.9 751.3,698.5 751.5,690 751.6,694.7 751.7,699.3 751.9,692.3 752,696.2 752.2,703.3 752.3,695.8 752.4,692 752.6,699.9 752.7,697.5 752.8,696.3 753,697.6 753.1,693.7 753.2,699.5 753.4,697.7 753.5,695.6 753.7,693.1 753.8,698.1 753.9,697.9 754.1,703.4 754.2,697.2 754.3,700.3 754.5,694.6 754.6,701.8 754.7,692.4 754.9,699.3 755,687.5 755.1,691.1 755.3,695.1 755.4,690.4 755.6,692.4 755.7,689.2 755.8,692.4 756,702.8 756.1,695.4 756.2,696 756.4,695.4 756.5,697.5 756.6,690.9 756.8,691.2 756.9,699.8 757,691.1 757.2,692.1 757.3,691.4 757.5,689 757.6,691.1 757.7,696.7 757.9,689.8 758,700.4 758.1,699 758.3,698.1 758.4,698.8 758.5,691.5 758.7,697.7 758.8,692.7 759,692.1 759.1,689.3 759.2,685.2 759.4,690.3 759.5,697.1 759.6,702.9 759.8,698.7 759.9,692.7 760,694.4 760.2,699.8 760.3,699.8 760.4,702.9 760.6,694.3 760.7,693.6 760.9,693.8 761,693.8 761.1,695.4 761.3,691.9 761.4,697.3 761.5,692.3 761.7,695.3 761.8,696.9 761.9,694.6 762.1,701.9 762.2,702.6 762.4,699.4 762.5,694.8 762.6,694.5 762.8,698.9 762.9,702.1 763,697.3 763.2,701 763.3,700.2 763.4,701 763.6,701.9 763.7,699.8 763.8,704.2 764,704.5 764.1,705.1 764.3,701 764.4,702.7 764.5,705.1 764.7,699.4 764.8,695.8 764.9,697.8 765.1,696.4 765.2,693.5 765.3,697.3 765.5,690.5 765.6,696.3 765.7,697.1 765.9,700.3 766,699.1 766.2,696.6 766.3,698.7 766.4,691.7 766.6,696.7 766.7,700.8 766.8,703.7 767,691 767.1,691.2 767.2,688.9 767.4,688.2 767.5,695.2 767.7,693.5 767.8,693.9 767.9,700.6 768.1,702.1 768.2,698.5 768.3,694.5 768.5,690.6 768.6,697.6 768.7,695.7 768.9,697.5 769,697.4 769.1,694.7 769.3,698 769.4,696 769.6,700.2 769.7,696.8 769.8,693.4 770,698.6 770.1,689.7 770.2,693.3 770.4,703.7 770.5,701.4 770.6,698.1 770.8,698.6 770.9,697.7 771.1,689.1 771.2,691 771.3,691.4 771.5,693.9 771.6,702.8 771.7,702.1 771.9,689.3 772,693.3 772.1,689.5 772.3,690.1 772.4,692.6 772.5,688.8 772.7,690.9 772.8,694.8 773,693.3 773.1,703.7 773.2,697.3 773.4,690.4 773.5,696.5 773.6,694.2 773.8,705 773.9,694.8 774,701.8 774.2,700.5 774.3,695.9 774.4,695.4 774.6,704.2 774.7,699.9 774.9,699.8 775,698.5 775.1,688.9 775.3,701.1 775.4,689.8 775.5,690.2 775.7,693.8 775.8,694.5 775.9,696.6 776.1,702.3 776.2,703.7 776.4,689.8 776.5,696.6 776.6,698.8 776.8,698 776.9,692.2 777,690.6 777.2,702.6 777.3,693.3 777.4,697.8 777.6,692.3 777.7,699.5 777.8,693.5 778,694.9 778.1,699.2 778.3,697.9 778.4,696.9 778.5,698.9 778.7,698.9 778.8,695.8 778.9,703.5 779.1,700.5 779.2,695.3 779.3,700.1 779.5,704.3 779.6,702.8 779.8,698.3 779.9,693.9 780,694.7 780.2,689.3 780.3,689.6 780.4,690.9 780.6,702 780.7,702.7 780.8,688.7 781,701.1 781.1,693.4 781.2,696.9 781.4,703.2 781.5,704.7 781.7,701.4 781.8,705.7 781.9,699.6 782.1,695 782.2,697.1 782.3,696.6 782.5,688.9 782.6,690.9 782.7,701.6 782.9,694.6 783,687.8 783.1,692.9 783.3,698.9 783.4,705.1 783.6,688.3 783.7,700.9 783.8,689.9 784,693.7 784.1,695.3 784.2,699.4 784.4,696.4 784.5,693.7 784.6,698.8 784.8,687.9 784.9,691.5 785.1,691.7 785.2,694.3 785.3,695.9 785.5,700.1 785.6,704.9 785.7,692.4 785.9,694.3 786,703.4 786.1,696.9 786.3,697 786.4,687.2 786.5,687.9 786.7,691.2 786.8,691.1 787,696.1 787.1,693.4 787.2,693.9 787.4,704.6 787.5,696.3 787.6,690.8 787.8,703.9 787.9,699.3 788,694 788.2,699.4 788.3,700.4 788.5,694.7 788.6,700.5 788.7,700.5 788.9,702.5 789,693.9 789.1,697.6 789.3,690 789.4,700.7 789.5,702.3 789.7,701 789.8,702 789.9,698.5 790.1,703.2 790.2,696.8 790.4,688.5 790.5,696.3 790.6,697.4 790.8,690.6 790.9,694.1 791,697.5 791.2,694.5 791.3,694.9 791.4,688.6 791.6,696.3 791.7,691.3 791.8,691.9 792,699.1 792.1,692 792.3,695.6 792.4,692.1 792.5,693.2 792.7,693.9 792.8,690.9 792.9,695.5 793.1,694 793.2,697.2 793.3,698.2 793.5,700.6 793.6,697.2 793.8,697.8 793.9,690.9 794,702.3 794.2,694.4 794.3,703.5 794.4,699.7 794.6,701.9 794.7,699.1 794.8,700.5 795,700.5 795.1,700.6 795.2,700 795.4,696.3 795.5,700.1 795.7,698.7 795.8,692.8 795.9,698.1 796.1,695.7 796.2,695.4 796.3,696.3 796.5,693.7 796.6,697.2 796.7,695.5 796.9,698.7 797,699 797.2,692 797.3,695.7 797.4,694.8 797.6,694.5 797.7,689.2 797.8,696.4 798,696.3 798.1,695.8 798.2,695.1 798.4,701.1 798.5,689.8 798.6,686.6 798.8,695.6 798.9,696.8 799.1,690.7 799.2,696.4 799.3,700.3 799.5,698.8 799.6,691.3 799.7,696.3 799.9,697.4 800,688.7 800.1,697.6 800.3,689.1 800.4,697.6 800.5,703.1 800.7,694.2 800.8,702.7 801,690.9 801.1,695.1 801.2,696.7 801.4,696.6 801.5,696.7"/>
<rect x="802.1" y="490.6" width="3" height="10.8" fill="#ff2410" stroke="#2e0614" stroke-width="1.45"/><rect x="802.1" y="503.3" width="6.5" height="10.8" fill="#ff2410" stroke="#2e0614" stroke-width="1.45"/><rect x="802.1" y="516" width="8.2" height="10.8" fill="#ff2410" stroke="#2e0614" stroke-width="1.45"/><rect x="802.1" y="528.7" width="11" height="10.8" fill="#ff2410" stroke="#2e0614" stroke-width="1.45"/><rect x="802.1" y="541.4" width="12.7" height="10.8" fill="#ff2410" stroke="#2e0614" stroke-width="1.45"/><rect x="802.1" y="554.1" width="8.2" height="10.8" fill="#ff2410" stroke="#2e0614" stroke-width="1.45"/><rect x="802.1" y="566.8" width="6.5" height="10.8" fill="#ff2410" stroke="#2e0614" stroke-width="1.45"/><rect x="802.1" y="579.5" width="5.8" height="10.8" fill="#ff2410" stroke="#2e0614" stroke-width="1.45"/><rect x="802.1" y="592.3" width="17.9" height="10.8" fill="#ff2410" stroke="#2e0614" stroke-width="1.45"/><rect x="802.1" y="605" width="46" height="10.8" fill="#ff2410" stroke="#2e0614" stroke-width="1.45"/><rect x="802.1" y="617.7" width="55" height="10.8" fill="#ff2410" stroke="#2e0614" stroke-width="1.45"/><rect x="802.1" y="630.4" width="20" height="10.8" fill="#ff2410" stroke="#2e0614" stroke-width="1.45"/><rect x="802.1" y="643.1" width="4" height="10.8" fill="#ff2410" stroke="#2e0614" stroke-width="1.45"/><rect x="802.1" y="668.5" width="4.8" height="10.8" fill="#ff2410" stroke="#2e0614" stroke-width="1.45"/><rect x="802.1" y="681.2" width="102" height="10.8" fill="#ff2410" stroke="#2e0614" stroke-width="1.45"/><rect x="802.1" y="693.9" width="46" height="10.8" fill="#ff2410" stroke="#2e0614" stroke-width="1.45"/>
<polyline points="804.8,708 805.4,707.5 806.2,707 807.1,706.5 808.2,706 809.5,705.4 811,704.9 812.8,704.4 814.8,703.9 817.1,703.4 819.7,702.9 822.6,702.4 825.8,701.9 829.4,701.4 833.4,700.9 837.6,700.4 842.2,699.9 847.1,699.3 852.3,698.8 857.7,698.3 863.3,697.8 869.1,697.3 874.9,696.8 880.7,696.3 886.4,695.8 892,695.3 897.3,694.8 902.3,694.3 906.9,693.8 911,693.2 914.6,692.7 917.5,692.2 919.7,691.7 921.2,691.2 922,690.7 922,690.2 921.2,689.7 919.7,689.2 917.5,688.7 914.6,688.2 911,687.7 906.9,687.1 902.3,686.6 897.3,686.1 892,685.6 886.4,685.1 880.7,684.6 874.9,684.1 869.1,683.6 863.3,683.1 857.7,682.6 852.3,682.1 847.1,681.6 842.2,681 837.6,680.5 833.4,680 829.4,679.5 825.8,679 822.6,678.5 819.7,678 817.1,677.5 814.8,677 812.8,676.5 811,676 809.5,675.5 808.2,675 807.1,674.4 806.2,673.9 805.4,673.4 804.8,672.9 804.2,672.4 803.8,671.9 803.4,671.4" fill="none" stroke="#000" stroke-width="2.1" stroke-dasharray="2.1 3.5"/><polyline points="803.3,649 803.5,648.5 803.7,648 803.9,647.5 804.1,647 804.4,646.5 804.7,646 805,645.5 805.4,645 805.7,644.5 806.2,644 806.6,643.4 807.1,642.9 807.7,642.4 808.3,641.9 808.9,641.4 809.6,640.9 810.3,640.4 811.1,639.9 812,639.4 812.9,638.9 813.8,638.4 814.8,637.9 815.9,637.3 817,636.8 818.2,636.3 819.5,635.8 820.8,635.3 822.1,634.8 823.5,634.3 825,633.8 826.5,633.3 828,632.8 829.5,632.3 831.1,631.8 832.8,631.2 834.4,630.7 836.1,630.2 837.7,629.7 839.4,629.2 841,628.7 842.6,628.2 844.2,627.7 845.8,627.2 847.3,626.7 848.8,626.2 850.2,625.7 851.6,625.1 852.9,624.6 854.1,624.1 855.2,623.6 856.2,623.1 857.1,622.6 857.9,622.1 858.6,621.6 859.1,621.1 859.6,620.6 859.9,620.1 860.1,619.6 860.2,619 860.1,618.5 859.9,618 859.6,617.5 859.2,617 858.6,616.5 857.9,616 857.2,615.5 856.3,615 855.3,614.5 854.2,614 853,613.5 851.7,613 850.4,612.4 849,611.9 847.5,611.4 846,610.9 844.4,610.4 842.9,609.9 841.2,609.4 839.6,608.9 838,608.4 836.3,607.9 834.7,607.4 833.1,606.9 831.5,606.3 829.9,605.8 828.4,605.3 826.9,604.8 825.4,604.3 824,603.8 822.6,603.3 821.3,602.8 820,602.3 818.8,601.8 817.6,601.3 816.6,600.8 815.5,600.2 814.5,599.7 813.6,599.2 812.8,598.7 811.9,598.2 811.2,597.7 810.5,597.2 809.9,596.7 809.3,596.2 808.7,595.7 808.2,595.2 807.8,594.7 807.4,594.1 807,593.6 806.7,593.1 806.4,592.6 806.1,592.1 805.9,591.6 805.7,591.1 805.6,590.6 805.4,590.1 805.3,589.6 805.2,589.1 805.1,588.6 805.1,588 805,587.5 805,587 805,586.5 805,586 805,585.5 805.1,585 805.1,584.5 805.2,584 805.2,583.5 805.3,583 805.4,582.5 805.5,581.9 805.6,581.4 805.6,580.9 805.8,580.4 805.9,579.9 806,579.4 806.1,578.9 806.2,578.4 806.3,577.9 806.5,577.4 806.6,576.9 806.7,576.4 806.9,575.9 807,575.3 807.1,574.8 807.3,574.3 807.4,573.8 807.6,573.3 807.7,572.8 807.9,572.3 808,571.8 808.2,571.3 808.4,570.8 808.5,570.3 808.7,569.8 808.8,569.2 809,568.7 809.2,568.2 809.3,567.7 809.5,567.2 809.7,566.7 809.8,566.2 810,565.7 810.2,565.2 810.3,564.7 810.5,564.2 810.6,563.7 810.8,563.1 811,562.6 811.1,562.1 811.3,561.6 811.5,561.1 811.6,560.6 811.8,560.1 811.9,559.6 812.1,559.1 812.2,558.6 812.4,558.1 812.5,557.6 812.7,557 812.8,556.5 813,556 813.1,555.5 813.2,555 813.4,554.5 813.5,554 813.6,553.5 813.7,553 813.8,552.5 813.9,552 814,551.5 814.2,550.9 814.2,550.4 814.3,549.9 814.4,549.4 814.5,548.9 814.6,548.4 814.7,547.9 814.7,547.4 814.8,546.9 814.8,546.4 814.9,545.9 814.9,545.4 815,544.9 815,544.3 815,543.8 815.1,543.3 815.1,542.8 815.1,542.3 815.1,541.8 815.1,541.3 815.1,540.8 815.1,540.3 815.1,539.8 815,539.3 815,538.8 815,538.2 814.9,537.7 814.9,537.2 814.8,536.7 814.8,536.2 814.7,535.7 814.7,535.2 814.6,534.7 814.5,534.2 814.4,533.7 814.3,533.2 814.2,532.7 814.2,532.1 814,531.6 813.9,531.1 813.8,530.6 813.7,530.1 813.6,529.6 813.5,529.1 813.4,528.6 813.2,528.1 813.1,527.6 813,527.1 812.8,526.6 812.7,526 812.5,525.5 812.4,525 812.2,524.5 812.1,524 811.9,523.5 811.8,523 811.6,522.5 811.5,522 811.3,521.5 811.1,521 811,520.5 810.8,519.9 810.6,519.4 810.5,518.9 810.3,518.4 810.2,517.9 810,517.4 809.8,516.9 809.7,516.4 809.5,515.9 809.3,515.4 809.2,514.9 809,514.4 808.8,513.9 808.7,513.3 808.5,512.8 808.3,512.3 808.2,511.8 808,511.3 807.9,510.8 807.7,510.3 807.6,509.8 807.4,509.3 807.3,508.8 807.1,508.3 807,507.8 806.8,507.2 806.7,506.7 806.6,506.2 806.4,505.7 806.3,505.2 806.2,504.7 806,504.2 805.9,503.7 805.8,503.2 805.7,502.7 805.5,502.2 805.4,501.7 805.3,501.1 805.2,500.6 805.1,500.1 805,499.6 804.9,499.1 804.8,498.6 804.7,498.1 804.6,497.6 804.5,497.1 804.4,496.6 804.3,496.1 804.2,495.6 804.1,495 804.1,494.5 804,494 803.9,493.5 803.8,493 803.8,492.5 803.7,492 803.6,491.5 803.5,491 803.5,490.5 803.4,490 803.4,489.5 803.3,488.9" fill="none" stroke="#000" stroke-width="2.1" stroke-dasharray="2.1 3.5"/>
<rect x="597.6" y="470.4" width="348" height="254.1" fill="none" stroke="#000" stroke-width="3"/><line x1="801.5" y1="470.4" x2="801.5" y2="724.5" stroke="#000" stroke-width="3"/><line x1="593.2" y1="724.5" x2="597.6" y2="724.5" stroke="#000" stroke-width="2.6"/><text class="t n" x="590" y="733.4" text-anchor="end">0</text><line x1="593.2" y1="661" x2="597.6" y2="661" stroke="#000" stroke-width="2.6"/><text class="t n" x="590" y="669.9" text-anchor="end">500</text><line x1="593.2" y1="597.5" x2="597.6" y2="597.5" stroke="#000" stroke-width="2.6"/><text class="t n" x="590" y="606.4" text-anchor="end">1000</text><line x1="593.2" y1="533.9" x2="597.6" y2="533.9" stroke="#000" stroke-width="2.6"/><text class="t n" x="590" y="542.8" text-anchor="end">1500</text><line x1="593.2" y1="470.4" x2="597.6" y2="470.4" stroke="#000" stroke-width="2.6"/><text class="t n" x="590" y="479.3" text-anchor="end">2000</text><line x1="597.6" y1="724.5" x2="597.6" y2="728" stroke="#000" stroke-width="2.6"/><text class="t n" x="597.3" y="752.1" text-anchor="middle">0</text><line x1="665.6" y1="724.5" x2="665.6" y2="728" stroke="#000" stroke-width="2.6"/><line x1="665.6" y1="470.4" x2="665.6" y2="473.8" stroke="#000" stroke-width="2.6"/><text class="t n" x="665.3" y="752.1" text-anchor="middle">500</text><line x1="733.5" y1="724.5" x2="733.5" y2="728" stroke="#000" stroke-width="2.6"/><line x1="733.5" y1="470.4" x2="733.5" y2="473.8" stroke="#000" stroke-width="2.6"/><text class="t n" x="733.2" y="752.1" text-anchor="middle">1000</text><line x1="801.5" y1="724.5" x2="801.5" y2="728" stroke="#000" stroke-width="2.6"/><text class="t r n" x="801.3" y="752.1" text-anchor="middle">0</text><line x1="873.5" y1="724.5" x2="873.5" y2="728" stroke="#000" stroke-width="2.6"/><line x1="873.5" y1="470.4" x2="873.5" y2="473.8" stroke="#000" stroke-width="2.6"/><text class="t r n" x="873.3" y="752.1" text-anchor="middle">300</text><line x1="945.6" y1="724.5" x2="945.6" y2="728" stroke="#000" stroke-width="2.6"/><text class="t r n" x="945.4" y="752.1" text-anchor="middle">600</text><text class="t" x="703.8" y="794.6" text-anchor="middle">Frames</text><text class="t r" x="878.1" y="794.6" text-anchor="middle">Frequency</text><text class="t" transform="translate(515.8,795.3) rotate(-90)" style="letter-spacing:-0.3px">Fluorescence</text><text class="t" transform="translate(515.8,614.2) rotate(-90)" style="letter-spacing:0.5px">intensity</text><text class="t" transform="translate(515.8,494.5) rotate(-90)" style="letter-spacing:0px">/</text><text class="t" transform="translate(515.8,475.2) rotate(-90)" style="letter-spacing:-1.2px">a.u.</text>
</g>
</svg></body></html>
